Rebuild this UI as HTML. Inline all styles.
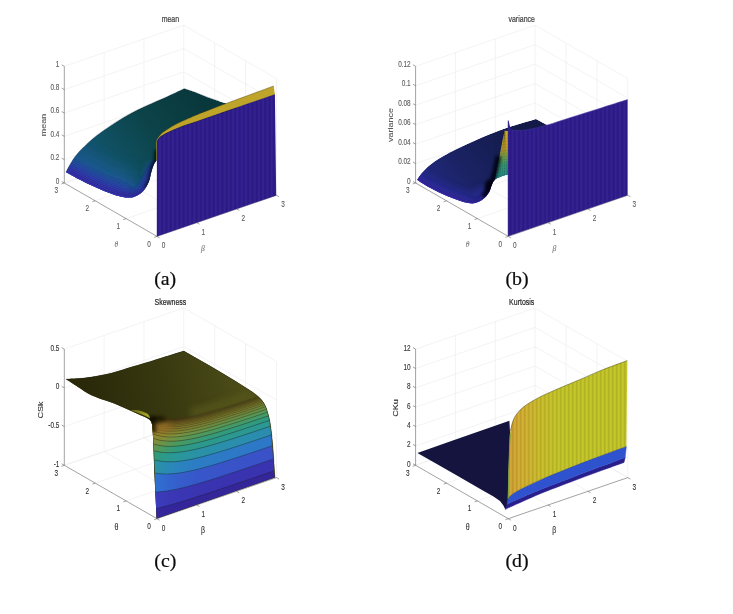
<!DOCTYPE html>
<html lang="en">
<head>
<meta charset="utf-8">
<title>Mean, variance, skewness and kurtosis surfaces</title>
<style>
html,body{margin:0;padding:0;background:#ffffff;}
body{width:733px;height:614px;overflow:hidden;font-family:"Liberation Sans",sans-serif;}
svg{display:block;}
</style>
</head>
<body>
<svg width="733" height="614" viewBox="0 0 733 614">
<rect x="0" y="0" width="733" height="614" fill="#ffffff"/>
<defs>
<clipPath id="ca"><path d="M66 172.2 C66.75 170.8 68.58 166.92 70.5 163.8 C72.42 160.68 73.83 157.67 77.5 153.5 C81.17 149.33 87.5 143.1 92.5 138.8 C97.5 134.5 102.5 131.17 107.5 127.7 C112.5 124.23 117.5 120.98 122.5 118 C127.5 115.02 132.5 112.3 137.5 109.8 C142.5 107.3 147.92 105.03 152.5 103 C157.08 100.97 159.72 100 165 97.6 C170.28 95.2 181 90.1 184.2 88.6 L195.3 92.3 L207.5 97.2 L219.8 101.5 L230 104.5 L240 108 L240 150 L158 150 L158 160 C157.72 160.12 156.98 159.97 156.3 160.7 C155.62 161.43 154.72 162.57 153.9 164.4 C153.08 166.23 152.23 168.83 151.4 171.7 C150.57 174.57 150.13 178.52 148.9 181.6 C147.67 184.68 146.03 187.85 144 190.2 C141.97 192.55 139.25 194.47 136.7 195.7 C134.15 196.93 132.08 197.65 128.7 197.6 C125.32 197.55 120.5 196.48 116.4 195.4 C112.3 194.32 108.2 192.73 104.1 191.1 C100 189.47 95.88 187.53 91.8 185.6 C87.72 183.67 83.9 181.73 79.6 179.5 C75.3 177.27 68.27 173.42 66 172.2 Z"/></clipPath>
<linearGradient id="ga" gradientUnits="userSpaceOnUse" x1="80" y1="190" x2="200" y2="100"><stop offset="0" stop-color="#1a5688"/><stop offset="0.3" stop-color="#115266"/><stop offset="0.6" stop-color="#0c444a"/><stop offset="1" stop-color="#09383c"/></linearGradient>
<filter id="b3" filterUnits="userSpaceOnUse" x="0" y="0" width="733" height="614"><feGaussianBlur stdDeviation="3"/></filter>
<filter id="b5" filterUnits="userSpaceOnUse" x="0" y="0" width="733" height="614"><feGaussianBlur stdDeviation="5"/></filter>
<filter id="b7" filterUnits="userSpaceOnUse" x="0" y="0" width="733" height="614"><feGaussianBlur stdDeviation="8"/></filter>
<filter id="b2" filterUnits="userSpaceOnUse" x="0" y="0" width="733" height="614"><feGaussianBlur stdDeviation="1.6"/></filter>
<filter id="b1" filterUnits="userSpaceOnUse" x="0" y="0" width="733" height="614"><feGaussianBlur stdDeviation="0.8"/></filter>
<pattern id="st" patternUnits="userSpaceOnUse" width="4.3" height="10"><rect x="0" y="0" width="1.8" height="10" fill="#ffffff" opacity="0.03"/><rect x="2.4" y="0" width="1.0" height="10" fill="#000000" opacity="0.05"/></pattern>
<clipPath id="cb"><path d="M417 179.8 C417.75 178.75 419.75 175.63 421.5 173.5 C423.25 171.37 425.33 169 427.5 167 C429.67 165 432 163.25 434.5 161.5 C437 159.75 439.53 158.2 442.5 156.5 C445.47 154.8 448.62 153.18 452.3 151.3 C455.98 149.42 460.52 147.12 464.6 145.2 C468.68 143.28 472.72 141.58 476.8 139.8 C480.88 138.02 485 136.17 489.1 134.5 C493.2 132.83 498.23 130.98 501.4 129.8 C504.57 128.62 502.35 129.2 508.1 127.4 C513.85 125.6 531.27 120.4 535.9 119 L548 125.4 L548 140 L509 140 L509 174.2 C507.67 174.63 503.33 175.87 501 176.8 C498.67 177.73 496.5 178.52 495 179.8 C493.5 181.08 493 182.38 492 184.5 C491 186.62 490.5 190.03 489 192.5 C487.5 194.97 485.25 197.55 483 199.3 C480.75 201.05 478 202.38 475.5 203 C473 203.62 471 203.5 468 203 C465 202.5 461.75 201.5 457.5 200 C453.25 198.5 447.5 196.25 442.5 194 C437.5 191.75 431.75 188.87 427.5 186.5 C423.25 184.13 418.75 180.92 417 179.8 Z"/></clipPath>
<linearGradient id="gb" gradientUnits="userSpaceOnUse" x1="430" y1="195" x2="520" y2="125"><stop offset="0" stop-color="#232a82"/><stop offset="0.4" stop-color="#1a2262"/><stop offset="1" stop-color="#131a48"/></linearGradient>
<linearGradient id="gt" gradientUnits="userSpaceOnUse" x1="0" y1="131" x2="0" y2="180"><stop offset="0" stop-color="#cfa92a"/><stop offset="0.36" stop-color="#c2a02c"/><stop offset="0.52" stop-color="#78a648"/><stop offset="0.68" stop-color="#3a9a74"/><stop offset="1" stop-color="#208890"/></linearGradient>
<clipPath id="cc"><path d="M65.8 379.1 C67.83 379.02 73.73 378.93 78 378.6 C82.27 378.27 85.75 378.03 91.4 377.1 C97.05 376.17 105.08 374.72 111.9 373 C118.72 371.28 125.48 368.85 132.3 366.8 C139.12 364.75 144.22 363.32 152.8 360.7 C161.38 358.08 178.63 352.7 183.8 351.1 L211.4 366.8 C214.82 368.85 225.77 375.35 231.9 379.1 C238.03 382.85 243.77 386.35 248.2 389.3 C252.63 392.25 255.8 394.35 258.5 396.8 C261.2 399.25 262.88 401.43 264.4 404 C265.92 406.57 266.6 408.78 267.6 412.2 C268.6 415.62 269.53 418.87 270.4 424.5 C271.27 430.13 272.05 437.17 272.8 446 C273.55 454.83 274.55 472.25 274.9 477.5 L156.6 518.6 L154.3 471.4 C154.12 466.28 153.52 447.75 153.2 440.7 C152.88 433.65 152.72 432.22 152.4 429.1 C152.08 425.98 152.23 423.83 151.3 422 C150.37 420.17 149.58 419.68 146.8 418.1 C144.02 416.52 138.68 414.35 134.6 412.5 C130.52 410.65 126.4 408.73 122.3 407 C118.2 405.27 115.15 404.07 110 402.1 C104.85 400.13 96.73 397.72 91.4 395.2 C86.07 392.68 82.27 389.68 78 387 C73.73 384.32 67.83 380.42 65.8 379.1 Z"/></clipPath>
<linearGradient id="gc0" gradientUnits="userSpaceOnUse" x1="85" y1="395" x2="235" y2="365"><stop offset="0" stop-color="#29290a"/><stop offset="0.45" stop-color="#36360f"/><stop offset="1" stop-color="#4b4c18"/></linearGradient>
<linearGradient id="gcb0" gradientUnits="userSpaceOnUse" x1="156.4" y1="0" x2="274.8" y2="0"><stop offset="0" stop-color="#35279c"/><stop offset="0.04" stop-color="#35279b"/><stop offset="0.1" stop-color="#34269a"/><stop offset="0.2" stop-color="#34269a"/><stop offset="0.35" stop-color="#342699"/><stop offset="0.6" stop-color="#342698"/><stop offset="1" stop-color="#342698"/></linearGradient>
<linearGradient id="gcb1" gradientUnits="userSpaceOnUse" x1="155.95" y1="0" x2="273.85" y2="0"><stop offset="0" stop-color="#3b3dba"/><stop offset="0.04" stop-color="#3b3ab8"/><stop offset="0.1" stop-color="#3b38b6"/><stop offset="0.2" stop-color="#3a36b3"/><stop offset="0.35" stop-color="#3a34b1"/><stop offset="0.6" stop-color="#3a33b0"/><stop offset="1" stop-color="#3a33af"/></linearGradient>
<linearGradient id="gcb2" gradientUnits="userSpaceOnUse" x1="155.5" y1="0" x2="272.9" y2="0"><stop offset="0" stop-color="#2e72cd"/><stop offset="0.04" stop-color="#306dd0"/><stop offset="0.1" stop-color="#3266cd"/><stop offset="0.2" stop-color="#355ecb"/><stop offset="0.35" stop-color="#3757c9"/><stop offset="0.6" stop-color="#3953c8"/><stop offset="1" stop-color="#3a51c7"/></linearGradient>
<linearGradient id="gcb3" gradientUnits="userSpaceOnUse" x1="155.05" y1="0" x2="271.95" y2="0"><stop offset="0" stop-color="#2a94a1"/><stop offset="0.04" stop-color="#2a8fa9"/><stop offset="0.1" stop-color="#2a8ab4"/><stop offset="0.2" stop-color="#2b83bd"/><stop offset="0.35" stop-color="#2c7dc3"/><stop offset="0.6" stop-color="#2d79c7"/><stop offset="1" stop-color="#2d77c8"/></linearGradient>
<linearGradient id="gcb4" gradientUnits="userSpaceOnUse" x1="154.6" y1="0" x2="271" y2="0"><stop offset="0" stop-color="#389a76"/><stop offset="0.04" stop-color="#2e9a83"/><stop offset="0.1" stop-color="#2c998e"/><stop offset="0.2" stop-color="#2a979a"/><stop offset="0.35" stop-color="#2a92a5"/><stop offset="0.6" stop-color="#2a8eac"/><stop offset="1" stop-color="#2a8daf"/></linearGradient>
<linearGradient id="gcb5" gradientUnits="userSpaceOnUse" x1="154.15" y1="0" x2="270.05" y2="0"><stop offset="0" stop-color="#64954d"/><stop offset="0.04" stop-color="#52995a"/><stop offset="0.1" stop-color="#419a6b"/><stop offset="0.2" stop-color="#309a7f"/><stop offset="0.35" stop-color="#2d998a"/><stop offset="0.6" stop-color="#2b9991"/><stop offset="1" stop-color="#2b9894"/></linearGradient>
<linearGradient id="gcb6" gradientUnits="userSpaceOnUse" x1="153.7" y1="0" x2="269.1" y2="0"><stop offset="0" stop-color="#868e37"/><stop offset="0.04" stop-color="#779140"/><stop offset="0.1" stop-color="#63954d"/><stop offset="0.2" stop-color="#4a9a60"/><stop offset="0.35" stop-color="#3b9a71"/><stop offset="0.6" stop-color="#329a7d"/><stop offset="1" stop-color="#2f9a81"/></linearGradient>
<linearGradient id="gcb7" gradientUnits="userSpaceOnUse" x1="153.25" y1="0" x2="268.15" y2="0"><stop offset="0" stop-color="#93872e"/><stop offset="0.04" stop-color="#8b8b33"/><stop offset="0.1" stop-color="#7f8f3c"/><stop offset="0.2" stop-color="#699449"/><stop offset="0.35" stop-color="#539859"/><stop offset="0.6" stop-color="#469a65"/><stop offset="1" stop-color="#429a69"/></linearGradient>
<linearGradient id="gcb8" gradientUnits="userSpaceOnUse" x1="152.8" y1="0" x2="267.2" y2="0"><stop offset="0" stop-color="#98802b"/><stop offset="0.04" stop-color="#94862d"/><stop offset="0.1" stop-color="#8c8b32"/><stop offset="0.2" stop-color="#7d903d"/><stop offset="0.35" stop-color="#6a9448"/><stop offset="0.6" stop-color="#5b9753"/><stop offset="1" stop-color="#569857"/></linearGradient>
<linearGradient id="gcb9" gradientUnits="userSpaceOnUse" x1="152.35" y1="0" x2="266.25" y2="0"><stop offset="0" stop-color="#907526"/><stop offset="0.04" stop-color="#917a29"/><stop offset="0.1" stop-color="#8c802b"/><stop offset="0.2" stop-color="#838633"/><stop offset="0.35" stop-color="#758a3b"/><stop offset="0.6" stop-color="#698c42"/><stop offset="1" stop-color="#648d45"/></linearGradient>
<linearGradient id="gcb10" gradientUnits="userSpaceOnUse" x1="151.9" y1="0" x2="265.3" y2="0"><stop offset="0" stop-color="#846923"/><stop offset="0.04" stop-color="#897025"/><stop offset="0.1" stop-color="#897628"/><stop offset="0.2" stop-color="#837d2b"/><stop offset="0.35" stop-color="#7b8031"/><stop offset="0.6" stop-color="#728338"/><stop offset="1" stop-color="#6d843a"/></linearGradient>
<linearGradient id="gcb11" gradientUnits="userSpaceOnUse" x1="151.6" y1="0" x2="264.35" y2="0"><stop offset="0" stop-color="#7a5e1e"/><stop offset="0.04" stop-color="#7f6521"/><stop offset="0.1" stop-color="#856d24"/><stop offset="0.2" stop-color="#807327"/><stop offset="0.35" stop-color="#7a772b"/><stop offset="0.6" stop-color="#757a30"/><stop offset="1" stop-color="#727b31"/></linearGradient>
<linearGradient id="gcb12" gradientUnits="userSpaceOnUse" x1="151.6" y1="0" x2="263.4" y2="0"><stop offset="0" stop-color="#71571c"/><stop offset="0.04" stop-color="#755c1e"/><stop offset="0.1" stop-color="#7b6421"/><stop offset="0.2" stop-color="#7c6b24"/><stop offset="0.35" stop-color="#787026"/><stop offset="0.6" stop-color="#73722a"/><stop offset="1" stop-color="#70732b"/></linearGradient>
<linearGradient id="gcb13" gradientUnits="userSpaceOnUse" x1="151.6" y1="0" x2="262.45" y2="0"><stop offset="0" stop-color="#6b521a"/><stop offset="0.04" stop-color="#6c541b"/><stop offset="0.1" stop-color="#725b1e"/><stop offset="0.2" stop-color="#776221"/><stop offset="0.35" stop-color="#736723"/><stop offset="0.6" stop-color="#706a25"/><stop offset="1" stop-color="#6d6b27"/></linearGradient>
<linearGradient id="gcb14" gradientUnits="userSpaceOnUse" x1="151.6" y1="0" x2="261.5" y2="0"><stop offset="0" stop-color="#654d19"/><stop offset="0.04" stop-color="#654d19"/><stop offset="0.1" stop-color="#6a541b"/><stop offset="0.2" stop-color="#705b1f"/><stop offset="0.35" stop-color="#6e6020"/><stop offset="0.6" stop-color="#6b6322"/><stop offset="1" stop-color="#6a6422"/></linearGradient>
<linearGradient id="gcb15" gradientUnits="userSpaceOnUse" x1="151.6" y1="0" x2="260.55" y2="0"><stop offset="0" stop-color="#5f4917"/><stop offset="0.04" stop-color="#5f4917"/><stop offset="0.1" stop-color="#624d19"/><stop offset="0.2" stop-color="#67541b"/><stop offset="0.35" stop-color="#67581d"/><stop offset="0.6" stop-color="#655b1f"/><stop offset="1" stop-color="#655c20"/></linearGradient>
<linearGradient id="gcb16" gradientUnits="userSpaceOnUse" x1="151.6" y1="0" x2="259.6" y2="0"><stop offset="0" stop-color="#584416"/><stop offset="0.04" stop-color="#584416"/><stop offset="0.1" stop-color="#5a4616"/><stop offset="0.2" stop-color="#5f4d19"/><stop offset="0.35" stop-color="#62521c"/><stop offset="0.6" stop-color="#5f541c"/><stop offset="1" stop-color="#5f551d"/></linearGradient>
<linearGradient id="gcb17" gradientUnits="userSpaceOnUse" x1="151.6" y1="0" x2="258.65" y2="0"><stop offset="0" stop-color="#523f14"/><stop offset="0.04" stop-color="#523f14"/><stop offset="0.1" stop-color="#534015"/><stop offset="0.2" stop-color="#574617"/><stop offset="0.35" stop-color="#5c4b19"/><stop offset="0.6" stop-color="#5a4d1a"/><stop offset="1" stop-color="#594f1a"/></linearGradient>
<linearGradient id="gcb18" gradientUnits="userSpaceOnUse" x1="151.6" y1="0" x2="257.7" y2="0"><stop offset="0" stop-color="#4c3a13"/><stop offset="0.04" stop-color="#4c3a13"/><stop offset="0.1" stop-color="#4c3a13"/><stop offset="0.2" stop-color="#504015"/><stop offset="0.35" stop-color="#544417"/><stop offset="0.6" stop-color="#544718"/><stop offset="1" stop-color="#524818"/></linearGradient>
<linearGradient id="gcb19" gradientUnits="userSpaceOnUse" x1="151.6" y1="0" x2="256.75" y2="0"><stop offset="0" stop-color="#463611"/><stop offset="0.04" stop-color="#463611"/><stop offset="0.1" stop-color="#463611"/><stop offset="0.2" stop-color="#493a13"/><stop offset="0.35" stop-color="#4c3e15"/><stop offset="0.6" stop-color="#4d4116"/><stop offset="1" stop-color="#4c4216"/></linearGradient>
<linearGradient id="gl" gradientUnits="userSpaceOnUse" x1="138" y1="408" x2="143" y2="417"><stop offset="0" stop-color="#6e6e18"/><stop offset="1" stop-color="#a6a626"/></linearGradient>
<linearGradient id="gd" gradientUnits="userSpaceOnUse" x1="508" y1="0" x2="560" y2="0"><stop offset="0" stop-color="#cf9a34"/><stop offset="0.25" stop-color="#d0a932"/><stop offset="0.7" stop-color="#c4bb2a"/><stop offset="1" stop-color="#bfc128"/></linearGradient>
<pattern id="sd" patternUnits="userSpaceOnUse" width="4.0" height="10"><rect x="0" y="0" width="1.5" height="10" fill="#5a5a00" opacity="0.13"/><rect x="2.0" y="0" width="1.2" height="10" fill="#ffff60" opacity="0.09"/></pattern>
</defs>
<g fill="none" shape-rendering="geometricPrecision"><line x1="64.3" y1="183" x2="183.8" y2="141.9" stroke="#ececec" stroke-width="0.65"/><line x1="183.8" y1="141.9" x2="276.5" y2="195.3" stroke="#ececec" stroke-width="0.65"/><line x1="64.3" y1="159.66" x2="183.8" y2="118.56" stroke="#ececec" stroke-width="0.65"/><line x1="183.8" y1="118.56" x2="276.5" y2="171.96" stroke="#ececec" stroke-width="0.65"/><line x1="64.3" y1="136.32" x2="183.8" y2="95.22" stroke="#ececec" stroke-width="0.65"/><line x1="183.8" y1="95.22" x2="276.5" y2="148.62" stroke="#ececec" stroke-width="0.65"/><line x1="64.3" y1="112.98" x2="183.8" y2="71.88" stroke="#ececec" stroke-width="0.65"/><line x1="183.8" y1="71.88" x2="276.5" y2="125.28" stroke="#ececec" stroke-width="0.65"/><line x1="64.3" y1="89.64" x2="183.8" y2="48.54" stroke="#ececec" stroke-width="0.65"/><line x1="183.8" y1="48.54" x2="276.5" y2="101.94" stroke="#ececec" stroke-width="0.65"/><line x1="64.3" y1="66.3" x2="183.8" y2="25.2" stroke="#ececec" stroke-width="0.65"/><line x1="183.8" y1="25.2" x2="276.5" y2="78.6" stroke="#ececec" stroke-width="0.65"/><line x1="104.13" y1="169.3" x2="104.13" y2="52.6" stroke="#ececec" stroke-width="0.65"/><line x1="214.7" y1="159.7" x2="214.7" y2="43" stroke="#ececec" stroke-width="0.65"/><line x1="143.97" y1="155.6" x2="143.97" y2="38.9" stroke="#ececec" stroke-width="0.65"/><line x1="245.6" y1="177.5" x2="245.6" y2="60.8" stroke="#ececec" stroke-width="0.65"/><line x1="183.8" y1="141.9" x2="183.8" y2="25.2" stroke="#ececec" stroke-width="0.65"/><line x1="276.5" y1="195.3" x2="276.5" y2="78.6" stroke="#ececec" stroke-width="0.65"/><line x1="196.83" y1="222.7" x2="104.13" y2="169.3" stroke="#ececec" stroke-width="0.65"/><line x1="126.1" y1="218.6" x2="245.6" y2="177.5" stroke="#ececec" stroke-width="0.65"/><line x1="236.67" y1="209" x2="143.97" y2="155.6" stroke="#ececec" stroke-width="0.65"/><line x1="95.2" y1="200.8" x2="214.7" y2="159.7" stroke="#ececec" stroke-width="0.65"/><line x1="276.5" y1="195.3" x2="183.8" y2="141.9" stroke="#ececec" stroke-width="0.65"/><line x1="64.3" y1="183" x2="183.8" y2="141.9" stroke="#ececec" stroke-width="0.65"/><line x1="64.3" y1="183" x2="64.3" y2="66.3" stroke="#686868" stroke-width="0.62"/><line x1="64.3" y1="183" x2="157" y2="236.4" stroke="#686868" stroke-width="0.62"/><line x1="157" y1="236.4" x2="276.5" y2="195.3" stroke="#686868" stroke-width="0.62"/><line x1="157" y1="236.4" x2="154.16" y2="237.38" stroke="#686868" stroke-width="0.62"/><line x1="157" y1="236.4" x2="159.6" y2="237.9" stroke="#686868" stroke-width="0.62"/><line x1="126.1" y1="218.6" x2="123.26" y2="219.58" stroke="#686868" stroke-width="0.62"/><line x1="196.83" y1="222.7" x2="199.43" y2="224.2" stroke="#686868" stroke-width="0.62"/><line x1="95.2" y1="200.8" x2="92.36" y2="201.78" stroke="#686868" stroke-width="0.62"/><line x1="236.67" y1="209" x2="239.27" y2="210.5" stroke="#686868" stroke-width="0.62"/><line x1="64.3" y1="183" x2="61.46" y2="183.98" stroke="#686868" stroke-width="0.62"/><line x1="276.5" y1="195.3" x2="279.1" y2="196.8" stroke="#686868" stroke-width="0.62"/><line x1="64.3" y1="183" x2="61.7" y2="181.5" stroke="#686868" stroke-width="0.62"/><line x1="64.3" y1="159.66" x2="61.7" y2="158.16" stroke="#686868" stroke-width="0.62"/><line x1="64.3" y1="136.32" x2="61.7" y2="134.82" stroke="#686868" stroke-width="0.62"/><line x1="64.3" y1="112.98" x2="61.7" y2="111.48" stroke="#686868" stroke-width="0.62"/><line x1="64.3" y1="89.64" x2="61.7" y2="88.14" stroke="#686868" stroke-width="0.62"/><line x1="64.3" y1="66.3" x2="61.7" y2="64.8" stroke="#686868" stroke-width="0.62"/></g>
<g font-family="'Liberation Sans', sans-serif" fill="#5a5a5a" stroke="#5a5a5a" stroke-width="0.12"><text transform="translate(59.4 183.5) scale(0.76 1)" text-anchor="end" font-size="8.5" >0</text><text transform="translate(59.4 160.16) scale(0.76 1)" text-anchor="end" font-size="8.5" >0.2</text><text transform="translate(59.4 136.82) scale(0.76 1)" text-anchor="end" font-size="8.5" >0.4</text><text transform="translate(59.4 113.48) scale(0.76 1)" text-anchor="end" font-size="8.5" >0.6</text><text transform="translate(59.4 90.14) scale(0.76 1)" text-anchor="end" font-size="8.5" >0.8</text><text transform="translate(59.4 66.8) scale(0.76 1)" text-anchor="end" font-size="8.5" >1</text><text transform="translate(149.1 246.8) scale(0.76 1)" text-anchor="middle" font-size="8.5" >0</text><text transform="translate(163.5 248.3) scale(0.76 1)" text-anchor="middle" font-size="8.5" >0</text><text transform="translate(118.2 229) scale(0.76 1)" text-anchor="middle" font-size="8.5" >1</text><text transform="translate(203.33 234.6) scale(0.76 1)" text-anchor="middle" font-size="8.5" >1</text><text transform="translate(87.3 211.2) scale(0.76 1)" text-anchor="middle" font-size="8.5" >2</text><text transform="translate(243.17 220.9) scale(0.76 1)" text-anchor="middle" font-size="8.5" >2</text><text transform="translate(56.4 193.4) scale(0.76 1)" text-anchor="middle" font-size="8.5" >3</text><text transform="translate(283 207.2) scale(0.76 1)" text-anchor="middle" font-size="8.5" >3</text><text transform="translate(170.4 21.7) scale(0.76 1)" text-anchor="middle" font-size="9.2" fill="#3c3c3c" stroke="#3c3c3c" stroke-width="0.2">mean</text><text transform="translate(45.8 125) rotate(-90) scale(1 0.76)" text-anchor="middle" font-size="9.0">mean</text><text transform="translate(116.3 247.2) scale(0.9 1)" text-anchor="middle" font-size="8.4" font-family="'Liberation Serif', serif" font-style="italic" fill="#8a8a8a">θ</text><text transform="translate(203 250.6) scale(0.9 1)" text-anchor="middle" font-size="8.4" font-family="'Liberation Serif', serif" font-style="italic" fill="#8a8a8a">β</text></g>
<g clip-path="url(#ca)"><path d="M66 172.2 C66.75 170.8 68.58 166.92 70.5 163.8 C72.42 160.68 73.83 157.67 77.5 153.5 C81.17 149.33 87.5 143.1 92.5 138.8 C97.5 134.5 102.5 131.17 107.5 127.7 C112.5 124.23 117.5 120.98 122.5 118 C127.5 115.02 132.5 112.3 137.5 109.8 C142.5 107.3 147.92 105.03 152.5 103 C157.08 100.97 159.72 100 165 97.6 C170.28 95.2 181 90.1 184.2 88.6 L195.3 92.3 L207.5 97.2 L219.8 101.5 L230 104.5 L240 108 L240 150 L158 150 L158 160 C157.72 160.12 156.98 159.97 156.3 160.7 C155.62 161.43 154.72 162.57 153.9 164.4 C153.08 166.23 152.23 168.83 151.4 171.7 C150.57 174.57 150.13 178.52 148.9 181.6 C147.67 184.68 146.03 187.85 144 190.2 C141.97 192.55 139.25 194.47 136.7 195.7 C134.15 196.93 132.08 197.65 128.7 197.6 C125.32 197.55 120.5 196.48 116.4 195.4 C112.3 194.32 108.2 192.73 104.1 191.1 C100 189.47 95.88 187.53 91.8 185.6 C87.72 183.67 83.9 181.73 79.6 179.5 C75.3 177.27 68.27 173.42 66 172.2 Z" fill="url(#ga)"/><path d="M136.7 195.7 C135.37 196.02 132.08 197.65 128.7 197.6 C125.32 197.55 120.5 196.48 116.4 195.4 C112.3 194.32 108.2 192.73 104.1 191.1 C100 189.47 95.88 187.53 91.8 185.6 C87.72 183.67 83.9 181.73 79.6 179.5 C75.3 177.27 68.27 173.42 66 172.2" fill="none" stroke="#1d5c92" stroke-width="52" filter="url(#b7)" opacity="0.85"/><path d="M136.7 195.7 C135.37 196.02 132.08 197.65 128.7 197.6 C125.32 197.55 120.5 196.48 116.4 195.4 C112.3 194.32 108.2 192.73 104.1 191.1 C100 189.47 95.88 187.53 91.8 185.6 C87.72 183.67 83.9 181.73 79.6 179.5 C75.3 177.27 68.27 173.42 66 172.2" fill="none" stroke="#2650a6" stroke-width="26" filter="url(#b5)" opacity="0.9"/><path d="M153.9 164.4 C153.48 165.62 152.23 168.83 151.4 171.7 C150.57 174.57 150.13 178.52 148.9 181.6 C147.67 184.68 146.03 187.85 144 190.2 C141.97 192.55 139.25 194.47 136.7 195.7 C134.15 196.93 132.08 197.65 128.7 197.6 C125.32 197.55 120.5 196.48 116.4 195.4 C112.3 194.32 108.2 192.73 104.1 191.1 C100 189.47 95.88 187.53 91.8 185.6 C87.72 183.67 83.9 181.73 79.6 179.5 C75.3 177.27 68.27 173.42 66 172.2" fill="none" stroke="#22549e" stroke-width="12" filter="url(#b3)" opacity="0.8"/><path d="M73.49 158.34 L74.99 159.16 L77.08 160.29 L79.52 161.61 L82.11 163.01 L84.63 164.35 L86.88 165.54 L88.92 166.59 L90.91 167.61 L92.84 168.58 L94.74 169.53 L96.63 170.45 L98.56 171.38 L100.54 172.31 L102.51 173.23 L104.43 174.11 L106.31 174.95 L108.14 175.74 L109.98 176.49 L111.88 177.24 L113.76 177.96 L115.55 178.63 L117.27 179.22 L118.89 179.74 L120.46 180.31 L122.09 181.25 L123.8 182.18 L125.44 183.04 L126.92 183.81 L128.11 184.48 L128.95 185.04 L129.51 185.54 L129.91 186.01 L130.27 186.45 L130.76 186.83 L131.52 187.08 L132.51 187.19 L133.56 187.19 L134.38 186.7 L135.18 186.14 L135.94 185.54 L136.61 184.93 L137.19 184.32 L137.73 183.64 L138.3 182.79 L138.89 181.8 L139.47 180.69 L140.02 179.49 L140.67 178.45 L141.4 177.53 L142.11 176.38 L142.83 174.95 L143.56 173.35 L144.33 171.64 L145.16 169.98 L145.99 168.52 L146.81 167.21 L147.63 165.96 L148.45 164.79 L149.28 163.7 L150.14 162.68 L151.05 161.73 L151.97 160.95 L152.84 160.37 L153.63 159.97 L154.29 159.75 L154.84 159.65 L154.68 159.53 L154.09 159.6 L153.4 159.79 L152.57 160.17 L151.66 160.75 L150.68 161.53 L149.72 162.49 L148.82 163.51 L147.94 164.6 L147.07 165.77 L146.21 167.02 L145.35 168.33 L144.46 169.79 L143.59 171.46 L142.77 173.18 L142 174.77 L141.24 176.16 L140.51 177.25 L139.75 178.1 L139.11 179.09 L138.57 180.24 L138.01 181.31 L137.45 182.26 L136.92 183.04 L136.43 183.66 L135.91 184.21 L135.29 184.78 L134.59 185.34 L133.83 185.86 L133.07 186.32 L132.04 186.24 L131.08 186.06 L130.37 185.73 L129.96 185.27 L129.71 184.74 L129.42 184.2 L128.98 183.65 L128.24 183.03 L127.14 182.32 L125.74 181.5 L124.15 180.59 L122.49 179.62 L120.91 178.63 L119.39 178.06 L117.82 177.56 L116.14 176.98 L114.37 176.33 L112.51 175.61 L110.63 174.87 L108.82 174.12 L107.01 173.35 L105.15 172.52 L103.24 171.64 L101.28 170.73 L99.31 169.79 L97.39 168.88 L95.51 167.96 L93.62 167.02 L91.7 166.05 L89.72 165.03 L87.69 163.98 L85.45 162.81 L82.94 161.46 L80.35 160.07 L77.91 158.75 L75.83 157.62 L74.32 156.8 Z" fill="#2455a3" opacity="0.2"/><path d="M72.65 159.88 L74.16 160.7 L76.25 161.83 L78.69 163.15 L81.28 164.55 L83.81 165.9 L86.08 167.09 L88.12 168.14 L90.11 169.17 L92.06 170.15 L93.97 171.1 L95.87 172.03 L97.81 172.96 L99.8 173.89 L101.77 174.82 L103.71 175.71 L105.61 176.55 L107.47 177.35 L109.33 178.11 L111.24 178.87 L113.14 179.6 L114.97 180.27 L116.72 180.88 L118.38 181.41 L120.01 181.99 L121.69 182.88 L123.45 183.76 L125.15 184.58 L126.7 185.31 L127.98 185.93 L128.92 186.44 L129.59 186.88 L130.11 187.28 L130.57 187.64 L131.15 187.93 L131.96 188.1 L132.97 188.13 L134.05 188.06 L134.92 187.54 L135.78 186.94 L136.59 186.3 L137.32 185.64 L137.95 184.97 L138.53 184.23 L139.14 183.33 L139.76 182.28 L140.36 181.13 L140.94 179.9 L141.58 178.8 L142.3 177.8 L142.98 176.59 L143.66 175.13 L144.35 173.52 L145.07 171.81 L145.85 170.17 L146.64 168.72 L147.41 167.4 L148.19 166.15 L148.97 164.97 L149.75 163.89 L150.56 162.87 L151.41 161.93 L152.28 161.15 L153.11 160.56 L153.86 160.14 L154.48 159.89 L155 159.76 L154.84 159.65 L154.29 159.75 L153.63 159.97 L152.84 160.37 L151.97 160.95 L151.05 161.73 L150.14 162.68 L149.28 163.7 L148.45 164.79 L147.63 165.96 L146.81 167.21 L145.99 168.52 L145.16 169.98 L144.33 171.64 L143.56 173.35 L142.83 174.95 L142.11 176.38 L141.4 177.53 L140.67 178.45 L140.02 179.49 L139.47 180.69 L138.89 181.8 L138.3 182.79 L137.73 183.64 L137.19 184.32 L136.61 184.93 L135.94 185.54 L135.18 186.14 L134.38 186.7 L133.56 187.19 L132.51 187.19 L131.52 187.08 L130.76 186.83 L130.27 186.45 L129.91 186.01 L129.51 185.54 L128.95 185.04 L128.11 184.48 L126.92 183.81 L125.44 183.04 L123.8 182.18 L122.09 181.25 L120.46 180.31 L118.89 179.74 L117.27 179.22 L115.55 178.63 L113.76 177.96 L111.88 177.24 L109.98 176.49 L108.14 175.74 L106.31 174.95 L104.43 174.11 L102.51 173.23 L100.54 172.31 L98.56 171.38 L96.63 170.45 L94.74 169.53 L92.84 168.58 L90.91 167.61 L88.92 166.59 L86.88 165.54 L84.63 164.35 L82.11 163.01 L79.52 161.61 L77.08 160.29 L74.99 159.16 L73.49 158.34 Z" fill="#2552a6" opacity="0.4"/><path d="M71.82 161.42 L73.33 162.24 L75.41 163.37 L77.86 164.69 L80.46 166.09 L82.99 167.44 L85.27 168.64 L87.32 169.7 L89.32 170.73 L91.27 171.71 L93.19 172.67 L95.11 173.6 L97.06 174.54 L99.05 175.48 L101.04 176.41 L102.99 177.3 L104.91 178.16 L106.79 178.96 L108.67 179.74 L110.6 180.5 L112.52 181.24 L114.38 181.92 L116.16 182.54 L117.88 183.09 L119.56 183.66 L121.29 184.51 L123.1 185.35 L124.86 186.12 L126.47 186.8 L127.84 187.37 L128.89 187.83 L129.68 188.21 L130.31 188.54 L130.88 188.83 L131.53 189.04 L132.39 189.12 L133.44 189.08 L134.55 188.93 L135.47 188.37 L136.37 187.75 L137.23 187.07 L138.02 186.35 L138.7 185.62 L139.34 184.82 L139.99 183.86 L140.63 182.77 L141.26 181.57 L141.85 180.3 L142.5 179.15 L143.19 178.08 L143.84 176.8 L144.49 175.31 L145.14 173.69 L145.81 171.99 L146.55 170.36 L147.29 168.92 L148.02 167.59 L148.75 166.34 L149.48 165.16 L150.22 164.07 L150.97 163.06 L151.78 162.13 L152.6 161.35 L153.38 160.75 L154.08 160.31 L154.68 160.04 L155.16 159.88 L155 159.76 L154.48 159.89 L153.86 160.14 L153.11 160.56 L152.28 161.15 L151.41 161.93 L150.56 162.87 L149.75 163.89 L148.97 164.97 L148.19 166.15 L147.41 167.4 L146.64 168.72 L145.85 170.17 L145.07 171.81 L144.35 173.52 L143.66 175.13 L142.98 176.59 L142.3 177.8 L141.58 178.8 L140.94 179.9 L140.36 181.13 L139.76 182.28 L139.14 183.33 L138.53 184.23 L137.95 184.97 L137.32 185.64 L136.59 186.3 L135.78 186.94 L134.92 187.54 L134.05 188.06 L132.97 188.13 L131.96 188.1 L131.15 187.93 L130.57 187.64 L130.11 187.28 L129.59 186.88 L128.92 186.44 L127.98 185.93 L126.7 185.31 L125.15 184.58 L123.45 183.76 L121.69 182.88 L120.01 181.99 L118.38 181.41 L116.72 180.88 L114.97 180.27 L113.14 179.6 L111.24 178.87 L109.33 178.11 L107.47 177.35 L105.61 176.55 L103.71 175.71 L101.77 174.82 L99.8 173.89 L97.81 172.96 L95.87 172.03 L93.97 171.1 L92.06 170.15 L90.11 169.17 L88.12 168.14 L86.08 167.09 L83.81 165.9 L81.28 164.55 L78.69 163.15 L76.25 161.83 L74.16 160.7 L72.65 159.88 Z" fill="#2750aa" opacity="0.6"/><path d="M70.99 162.96 L72.49 163.77 L74.58 164.9 L77.03 166.23 L79.63 167.63 L82.17 168.99 L84.46 170.19 L86.52 171.26 L88.53 172.29 L90.49 173.28 L92.42 174.24 L94.35 175.18 L96.31 176.12 L98.31 177.06 L100.3 177.99 L102.27 178.9 L104.21 179.76 L106.11 180.58 L108.02 181.36 L109.97 182.13 L111.9 182.88 L113.79 183.57 L115.61 184.2 L117.37 184.76 L119.11 185.34 L120.89 186.15 L122.75 186.93 L124.57 187.66 L126.25 188.29 L127.71 188.82 L128.87 189.23 L129.77 189.55 L130.51 189.81 L131.18 190.01 L131.92 190.14 L132.83 190.14 L133.9 190.02 L135.04 189.8 L136.01 189.21 L136.97 188.55 L137.88 187.83 L138.72 187.06 L139.46 186.28 L140.15 185.41 L140.83 184.4 L141.51 183.26 L142.16 182.02 L142.77 180.71 L143.41 179.5 L144.09 178.35 L144.71 177.02 L145.32 175.49 L145.92 173.85 L146.56 172.16 L147.24 170.55 L147.94 169.11 L148.62 167.79 L149.31 166.53 L149.99 165.35 L150.69 164.26 L151.39 163.25 L152.14 162.33 L152.91 161.55 L153.65 160.94 L154.31 160.49 L154.87 160.19 L155.33 160 L155.16 159.88 L154.68 160.04 L154.08 160.31 L153.38 160.75 L152.6 161.35 L151.78 162.13 L150.97 163.06 L150.22 164.07 L149.48 165.16 L148.75 166.34 L148.02 167.59 L147.29 168.92 L146.55 170.36 L145.81 171.99 L145.14 173.69 L144.49 175.31 L143.84 176.8 L143.19 178.08 L142.5 179.15 L141.85 180.3 L141.26 181.57 L140.63 182.77 L139.99 183.86 L139.34 184.82 L138.7 185.62 L138.02 186.35 L137.23 187.07 L136.37 187.75 L135.47 188.37 L134.55 188.93 L133.44 189.08 L132.39 189.12 L131.53 189.04 L130.88 188.83 L130.31 188.54 L129.68 188.21 L128.89 187.83 L127.84 187.37 L126.47 186.8 L124.86 186.12 L123.1 185.35 L121.29 184.51 L119.56 183.66 L117.88 183.09 L116.16 182.54 L114.38 181.92 L112.52 181.24 L110.6 180.5 L108.67 179.74 L106.79 178.96 L104.91 178.16 L102.99 177.3 L101.04 176.41 L99.05 175.48 L97.06 174.54 L95.11 173.6 L93.19 172.67 L91.27 171.71 L89.32 170.73 L87.32 169.7 L85.27 168.64 L82.99 167.44 L80.46 166.09 L77.86 164.69 L75.41 163.37 L73.33 162.24 L71.82 161.42 Z" fill="#2a4cad" opacity="0.8"/><path d="M70.16 164.5 L71.66 165.31 L73.75 166.44 L76.2 167.77 L78.8 169.17 L81.35 170.54 L83.65 171.74 L85.72 172.81 L87.73 173.85 L89.7 174.84 L91.65 175.81 L93.59 176.75 L95.56 177.7 L97.56 178.65 L99.57 179.58 L101.55 180.49 L103.51 181.36 L105.43 182.19 L107.37 182.98 L109.33 183.76 L111.29 184.51 L113.2 185.22 L115.06 185.86 L116.87 186.44 L118.66 187.02 L120.49 187.78 L122.41 188.52 L124.28 189.19 L126.03 189.78 L127.57 190.26 L128.84 190.62 L129.85 190.88 L130.71 191.07 L131.49 191.2 L132.31 191.24 L133.27 191.16 L134.37 190.97 L135.53 190.67 L136.55 190.05 L137.56 189.35 L138.53 188.59 L139.42 187.78 L140.22 186.93 L140.95 186 L141.68 184.93 L142.38 183.74 L143.05 182.46 L143.68 181.12 L144.33 179.85 L144.98 178.62 L145.58 177.23 L146.15 175.67 L146.71 174.02 L147.3 172.34 L147.93 170.74 L148.58 169.31 L149.22 167.98 L149.86 166.72 L150.51 165.53 L151.15 164.45 L151.81 163.44 L152.51 162.53 L153.23 161.76 L153.91 161.13 L154.54 160.66 L155.07 160.33 L155.49 160.12 L155.33 160 L154.87 160.19 L154.31 160.49 L153.65 160.94 L152.91 161.55 L152.14 162.33 L151.39 163.25 L150.69 164.26 L149.99 165.35 L149.31 166.53 L148.62 167.79 L147.94 169.11 L147.24 170.55 L146.56 172.16 L145.92 173.85 L145.32 175.49 L144.71 177.02 L144.09 178.35 L143.41 179.5 L142.77 180.71 L142.16 182.02 L141.51 183.26 L140.83 184.4 L140.15 185.41 L139.46 186.28 L138.72 187.06 L137.88 187.83 L136.97 188.55 L136.01 189.21 L135.04 189.8 L133.9 190.02 L132.83 190.14 L131.92 190.14 L131.18 190.01 L130.51 189.81 L129.77 189.55 L128.87 189.23 L127.71 188.82 L126.25 188.29 L124.57 187.66 L122.75 186.93 L120.89 186.15 L119.11 185.34 L117.37 184.76 L115.61 184.2 L113.79 183.57 L111.9 182.88 L109.97 182.13 L108.02 181.36 L106.11 180.58 L104.21 179.76 L102.27 178.9 L100.3 177.99 L98.31 177.06 L96.31 176.12 L94.35 175.18 L92.42 174.24 L90.49 173.28 L88.53 172.29 L86.52 171.26 L84.46 170.19 L82.17 168.99 L79.63 167.63 L77.03 166.23 L74.58 164.9 L72.49 163.77 L70.99 162.96 Z" fill="#2c47af" opacity="1"/><path d="M69.33 166.04 L70.83 166.85 L72.91 167.98 L75.36 169.31 L77.98 170.72 L80.54 172.08 L82.84 173.29 L84.92 174.37 L86.94 175.41 L88.92 176.4 L90.87 177.38 L92.82 178.33 L94.81 179.28 L96.82 180.23 L98.83 181.17 L100.83 182.08 L102.8 182.97 L104.76 183.81 L106.71 184.61 L108.69 185.39 L110.67 186.15 L112.61 186.87 L114.51 187.52 L116.37 188.12 L118.21 188.69 L120.09 189.41 L122.06 190.1 L123.99 190.73 L125.81 191.28 L127.44 191.71 L128.81 192.02 L129.94 192.22 L130.91 192.34 L131.79 192.39 L132.7 192.34 L133.71 192.19 L134.84 191.92 L136.02 191.54 L137.1 190.89 L138.16 190.16 L139.18 189.35 L140.12 188.49 L140.97 187.59 L141.76 186.59 L142.52 185.47 L143.26 184.23 L143.95 182.9 L144.59 181.52 L145.24 180.2 L145.88 178.9 L146.44 177.45 L146.98 175.85 L147.5 174.19 L148.04 172.51 L148.63 170.93 L149.23 169.51 L149.83 168.17 L150.42 166.91 L151.02 165.72 L151.62 164.63 L152.23 163.64 L152.87 162.73 L153.54 161.96 L154.18 161.33 L154.77 160.83 L155.26 160.48 L155.65 160.23 L155.49 160.12 L155.07 160.33 L154.54 160.66 L153.91 161.13 L153.23 161.76 L152.51 162.53 L151.81 163.44 L151.15 164.45 L150.51 165.53 L149.86 166.72 L149.22 167.98 L148.58 169.31 L147.93 170.74 L147.3 172.34 L146.71 174.02 L146.15 175.67 L145.58 177.23 L144.98 178.62 L144.33 179.85 L143.68 181.12 L143.05 182.46 L142.38 183.74 L141.68 184.93 L140.95 186 L140.22 186.93 L139.42 187.78 L138.53 188.59 L137.56 189.35 L136.55 190.05 L135.53 190.67 L134.37 190.97 L133.27 191.16 L132.31 191.24 L131.49 191.2 L130.71 191.07 L129.85 190.88 L128.84 190.62 L127.57 190.26 L126.03 189.78 L124.28 189.19 L122.41 188.52 L120.49 187.78 L118.66 187.02 L116.87 186.44 L115.06 185.86 L113.2 185.22 L111.29 184.51 L109.33 183.76 L107.37 182.98 L105.43 182.19 L103.51 181.36 L101.55 180.49 L99.57 179.58 L97.56 178.65 L95.56 177.7 L93.59 176.75 L91.65 175.81 L89.7 174.84 L87.73 173.85 L85.72 172.81 L83.65 171.74 L81.35 170.54 L78.8 169.17 L76.2 167.77 L73.75 166.44 L71.66 165.31 L70.16 164.5 Z" fill="#2f43b2" opacity="1"/><path d="M68.5 167.58 L70 168.39 L72.08 169.52 L74.53 170.85 L77.15 172.26 L79.72 173.63 L82.03 174.85 L84.12 175.93 L86.15 176.97 L88.13 177.97 L90.1 178.95 L92.06 179.91 L94.05 180.86 L96.08 181.81 L98.1 182.76 L100.11 183.68 L102.1 184.57 L104.08 185.42 L106.06 186.23 L108.06 187.02 L110.05 187.79 L112.02 188.51 L113.96 189.18 L115.86 189.79 L117.75 190.37 L119.7 191.04 L121.71 191.69 L123.69 192.27 L125.59 192.77 L127.3 193.16 L128.78 193.41 L130.03 193.55 L131.11 193.61 L132.1 193.57 L133.08 193.45 L134.14 193.21 L135.3 192.86 L136.51 192.41 L137.64 191.73 L138.76 190.96 L139.83 190.11 L140.83 189.2 L141.73 188.24 L142.56 187.19 L143.37 186 L144.13 184.72 L144.84 183.35 L145.51 181.93 L146.16 180.55 L146.77 179.17 L147.31 177.66 L147.81 176.03 L148.29 174.35 L148.78 172.69 L149.32 171.13 L149.88 169.7 L150.43 168.36 L150.98 167.09 L151.53 165.91 L152.09 164.82 L152.65 163.83 L153.24 162.93 L153.85 162.16 L154.45 161.52 L155 161.01 L155.46 160.62 L155.81 160.35 L155.65 160.23 L155.26 160.48 L154.77 160.83 L154.18 161.33 L153.54 161.96 L152.87 162.73 L152.23 163.64 L151.62 164.63 L151.02 165.72 L150.42 166.91 L149.83 168.17 L149.23 169.51 L148.63 170.93 L148.04 172.51 L147.5 174.19 L146.98 175.85 L146.44 177.45 L145.88 178.9 L145.24 180.2 L144.59 181.52 L143.95 182.9 L143.26 184.23 L142.52 185.47 L141.76 186.59 L140.97 187.59 L140.12 188.49 L139.18 189.35 L138.16 190.16 L137.1 190.89 L136.02 191.54 L134.84 191.92 L133.71 192.19 L132.7 192.34 L131.79 192.39 L130.91 192.34 L129.94 192.22 L128.81 192.02 L127.44 191.71 L125.81 191.28 L123.99 190.73 L122.06 190.1 L120.09 189.41 L118.21 188.69 L116.37 188.12 L114.51 187.52 L112.61 186.87 L110.67 186.15 L108.69 185.39 L106.71 184.61 L104.76 183.81 L102.8 182.97 L100.83 182.08 L98.83 181.17 L96.82 180.23 L94.81 179.28 L92.82 178.33 L90.87 177.38 L88.92 176.4 L86.94 175.41 L84.92 174.37 L82.84 173.29 L80.54 172.08 L77.98 170.72 L75.36 169.31 L72.91 167.98 L70.83 166.85 L69.33 166.04 Z" fill="#343cb3" opacity="1"/><path d="M67.66 169.12 L69.16 169.93 L71.25 171.06 L73.7 172.39 L76.32 173.8 L78.9 175.18 L81.22 176.4 L83.31 177.48 L85.35 178.52 L87.35 179.53 L89.33 180.52 L91.3 181.48 L93.3 182.44 L95.33 183.4 L97.36 184.35 L99.39 185.27 L101.4 186.17 L103.4 187.03 L105.41 187.85 L107.42 188.65 L109.43 189.43 L111.43 190.16 L113.4 190.85 L115.36 191.47 L117.3 192.05 L119.3 192.67 L121.36 193.27 L123.4 193.81 L125.36 194.26 L127.17 194.6 L128.76 194.81 L130.12 194.89 L131.31 194.87 L132.4 194.76 L133.47 194.55 L134.58 194.23 L135.77 193.81 L137 193.29 L138.19 192.57 L139.35 191.76 L140.47 190.87 L141.53 189.91 L142.49 188.89 L143.37 187.78 L144.21 186.54 L145 185.2 L145.74 183.79 L146.42 182.33 L147.07 180.9 L147.67 179.45 L148.18 177.87 L148.64 176.21 L149.08 174.52 L149.53 172.86 L150.01 171.32 L150.52 169.9 L151.03 168.56 L151.54 167.28 L152.05 166.1 L152.55 165.01 L153.06 164.02 L153.6 163.13 L154.17 162.36 L154.72 161.71 L155.22 161.18 L155.65 160.77 L155.98 160.47 L155.81 160.35 L155.46 160.62 L155 161.01 L154.45 161.52 L153.85 162.16 L153.24 162.93 L152.65 163.83 L152.09 164.82 L151.53 165.91 L150.98 167.09 L150.43 168.36 L149.88 169.7 L149.32 171.13 L148.78 172.69 L148.29 174.35 L147.81 176.03 L147.31 177.66 L146.77 179.17 L146.16 180.55 L145.51 181.93 L144.84 183.35 L144.13 184.72 L143.37 186 L142.56 187.19 L141.73 188.24 L140.83 189.2 L139.83 190.11 L138.76 190.96 L137.64 191.73 L136.51 192.41 L135.3 192.86 L134.14 193.21 L133.08 193.45 L132.1 193.57 L131.11 193.61 L130.03 193.55 L128.78 193.41 L127.3 193.16 L125.59 192.77 L123.69 192.27 L121.71 191.69 L119.7 191.04 L117.75 190.37 L115.86 189.79 L113.96 189.18 L112.02 188.51 L110.05 187.79 L108.06 187.02 L106.06 186.23 L104.08 185.42 L102.1 184.57 L100.11 183.68 L98.1 182.76 L96.08 181.81 L94.05 180.86 L92.06 179.91 L90.1 178.95 L88.13 177.97 L86.15 176.97 L84.12 175.93 L82.03 174.85 L79.72 173.63 L77.15 172.26 L74.53 170.85 L72.08 169.52 L70 168.39 L68.5 167.58 Z" fill="#3836b4" opacity="1"/><path d="M66.83 170.66 L68.33 171.47 L70.41 172.6 L72.87 173.93 L75.49 175.34 L78.08 176.72 L80.41 177.95 L82.51 179.04 L84.56 180.08 L86.57 181.1 L88.55 182.09 L90.54 183.06 L92.55 184.02 L94.59 184.98 L96.63 185.93 L98.66 186.87 L100.7 187.77 L102.73 188.65 L104.75 189.48 L106.79 190.28 L108.82 191.06 L110.84 191.81 L112.85 192.51 L114.85 193.14 L116.85 193.72 L118.9 194.3 L121.01 194.86 L123.11 195.35 L125.14 195.76 L127.03 196.05 L128.73 196.2 L130.2 196.23 L131.51 196.14 L132.71 195.94 L133.86 195.65 L135.02 195.25 L136.23 194.75 L137.49 194.16 L138.73 193.41 L139.95 192.57 L141.12 191.63 L142.23 190.63 L143.24 189.55 L144.18 188.37 L145.06 187.08 L145.88 185.69 L146.64 184.23 L147.34 182.74 L147.99 181.25 L148.56 179.72 L149.04 178.09 L149.47 176.39 L149.87 174.69 L150.27 173.04 L150.71 171.51 L151.17 170.09 L151.63 168.75 L152.1 167.47 L152.56 166.28 L153.02 165.19 L153.48 164.21 L153.97 163.33 L154.48 162.56 L154.99 161.9 L155.45 161.35 L155.85 160.92 L156.14 160.58 L155.98 160.47 L155.65 160.77 L155.22 161.18 L154.72 161.71 L154.17 162.36 L153.6 163.13 L153.06 164.02 L152.55 165.01 L152.05 166.1 L151.54 167.28 L151.03 168.56 L150.52 169.9 L150.01 171.32 L149.53 172.86 L149.08 174.52 L148.64 176.21 L148.18 177.87 L147.67 179.45 L147.07 180.9 L146.42 182.33 L145.74 183.79 L145 185.2 L144.21 186.54 L143.37 187.78 L142.49 188.89 L141.53 189.91 L140.47 190.87 L139.35 191.76 L138.19 192.57 L137 193.29 L135.77 193.81 L134.58 194.23 L133.47 194.55 L132.4 194.76 L131.31 194.87 L130.12 194.89 L128.76 194.81 L127.17 194.6 L125.36 194.26 L123.4 193.81 L121.36 193.27 L119.3 192.67 L117.3 192.05 L115.36 191.47 L113.4 190.85 L111.43 190.16 L109.43 189.43 L107.42 188.65 L105.41 187.85 L103.4 187.03 L101.4 186.17 L99.39 185.27 L97.36 184.35 L95.33 183.4 L93.3 182.44 L91.3 181.48 L89.33 180.52 L87.35 179.53 L85.35 178.52 L83.31 177.48 L81.22 176.4 L78.9 175.18 L76.32 173.8 L73.7 172.39 L71.25 171.06 L69.16 169.93 L67.66 169.12 Z" fill="#3a32b3" opacity="1"/><path d="M65.52 173.08 L67.02 173.89 L69.1 175.02 L71.56 176.35 L74.19 177.77 L76.79 179.15 L79.14 180.39 L81.26 181.48 L83.31 182.54 L85.33 183.56 L87.34 184.55 L89.34 185.53 L91.37 186.5 L93.42 187.47 L95.47 188.43 L97.53 189.37 L99.6 190.29 L101.66 191.18 L103.73 192.03 L105.79 192.84 L107.85 193.64 L109.91 194.4 L111.98 195.12 L114.06 195.78 L116.14 196.37 L118.26 196.91 L120.44 197.42 L122.63 197.87 L124.77 198.24 L126.81 198.49 L128.68 198.6 L130.36 198.56 L131.87 198.39 L133.26 198.1 L134.58 197.7 L135.85 197.19 L137.14 196.6 L138.48 195.9 L139.82 195.09 L141.14 194.17 L142.42 193.16 L143.63 192.05 L144.76 190.85 L145.79 189.55 L146.74 188.15 L147.62 186.66 L148.43 185.12 L149.16 183.55 L149.83 181.96 L150.41 180.29 L150.88 178.54 L151.28 176.78 L151.63 175.06 L151.98 173.44 L152.36 171.97 L152.77 170.58 L153.19 169.24 L153.6 167.98 L154.01 166.81 L154.42 165.75 L154.81 164.82 L155.21 164.01 L155.64 163.3 L156.07 162.68 L156.48 162.13 L156.84 161.66 L157.11 161.28 L156.14 160.58 L155.85 160.92 L155.45 161.35 L154.99 161.9 L154.48 162.56 L153.97 163.33 L153.48 164.21 L153.02 165.19 L152.56 166.28 L152.1 167.47 L151.63 168.75 L151.17 170.09 L150.71 171.51 L150.27 173.04 L149.87 174.69 L149.47 176.39 L149.04 178.09 L148.56 179.72 L147.99 181.25 L147.34 182.74 L146.64 184.23 L145.88 185.69 L145.06 187.08 L144.18 188.37 L143.24 189.55 L142.23 190.63 L141.12 191.63 L139.95 192.57 L138.73 193.41 L137.49 194.16 L136.23 194.75 L135.02 195.25 L133.86 195.65 L132.71 195.94 L131.51 196.14 L130.2 196.23 L128.73 196.2 L127.03 196.05 L125.14 195.76 L123.11 195.35 L121.01 194.86 L118.9 194.3 L116.85 193.72 L114.85 193.14 L112.85 192.51 L110.84 191.81 L108.82 191.06 L106.79 190.28 L104.75 189.48 L102.73 188.65 L100.7 187.77 L98.66 186.87 L96.63 185.93 L94.59 184.98 L92.55 184.02 L90.54 183.06 L88.55 182.09 L86.57 181.1 L84.56 180.08 L82.51 179.04 L80.41 177.95 L78.08 176.72 L75.49 175.34 L72.87 173.93 L70.41 172.6 L68.33 171.47 L66.83 170.66 Z" fill="#3b2fb2" opacity="1"/><path d="M66.83 170.66 L68.33 171.47 L70.41 172.6 L72.87 173.93 L75.49 175.34 L78.08 176.72 L80.41 177.95 L82.51 179.04 L84.56 180.08 L86.57 181.1 L88.55 182.09 L90.54 183.06 L92.55 184.02 L94.59 184.98 L96.63 185.93 L98.66 186.87 L100.7 187.77 L102.73 188.65 L104.75 189.48 L106.79 190.28 L108.82 191.06 L110.84 191.81 L112.85 192.51 L114.85 193.14 L116.85 193.72 L118.9 194.3 L121.01 194.86 L123.11 195.35 L125.14 195.76 L127.03 196.05 L128.73 196.2 L130.2 196.23 L131.51 196.14 L132.71 195.94 L133.86 195.65 L135.02 195.25 L136.23 194.75 L137.49 194.16 L138.73 193.41 L139.95 192.57 L141.12 191.63 L142.23 190.63 L143.24 189.55 L144.18 188.37 L145.06 187.08 L145.88 185.69 L146.64 184.23 L147.34 182.74 L147.99 181.25 L148.56 179.72 L149.04 178.09 L149.47 176.39 L149.87 174.69 L150.27 173.04 L150.71 171.51 L151.17 170.09 L151.63 168.75 L152.1 167.47 L152.56 166.28 L153.02 165.19 L153.48 164.21 L153.97 163.33 L154.48 162.56 L154.99 161.9 L155.45 161.35 L155.85 160.92 L156.14 160.58" fill="none" stroke="#0a1030" stroke-width="0.5" opacity="0.57"/><path d="M67.66 169.12 L69.16 169.93 L71.25 171.06 L73.7 172.39 L76.32 173.8 L78.9 175.18 L81.22 176.4 L83.31 177.48 L85.35 178.52 L87.35 179.53 L89.33 180.52 L91.3 181.48 L93.3 182.44 L95.33 183.4 L97.36 184.35 L99.39 185.27 L101.4 186.17 L103.4 187.03 L105.41 187.85 L107.42 188.65 L109.43 189.43 L111.43 190.16 L113.4 190.85 L115.36 191.47 L117.3 192.05 L119.3 192.67 L121.36 193.27 L123.4 193.81 L125.36 194.26 L127.17 194.6 L128.76 194.81 L130.12 194.89 L131.31 194.87 L132.4 194.76 L133.47 194.55 L134.58 194.23 L135.77 193.81 L137 193.29 L138.19 192.57 L139.35 191.76 L140.47 190.87 L141.53 189.91 L142.49 188.89 L143.37 187.78 L144.21 186.54 L145 185.2 L145.74 183.79 L146.42 182.33 L147.07 180.9 L147.67 179.45 L148.18 177.87 L148.64 176.21 L149.08 174.52 L149.53 172.86 L150.01 171.32 L150.52 169.9 L151.03 168.56 L151.54 167.28 L152.05 166.1 L152.55 165.01 L153.06 164.02 L153.6 163.13 L154.17 162.36 L154.72 161.71 L155.22 161.18 L155.65 160.77 L155.98 160.47" fill="none" stroke="#0a1030" stroke-width="0.5" opacity="0.53"/><path d="M68.5 167.58 L70 168.39 L72.08 169.52 L74.53 170.85 L77.15 172.26 L79.72 173.63 L82.03 174.85 L84.12 175.93 L86.15 176.97 L88.13 177.97 L90.1 178.95 L92.06 179.91 L94.05 180.86 L96.08 181.81 L98.1 182.76 L100.11 183.68 L102.1 184.57 L104.08 185.42 L106.06 186.23 L108.06 187.02 L110.05 187.79 L112.02 188.51 L113.96 189.18 L115.86 189.79 L117.75 190.37 L119.7 191.04 L121.71 191.69 L123.69 192.27 L125.59 192.77 L127.3 193.16 L128.78 193.41 L130.03 193.55 L131.11 193.61 L132.1 193.57 L133.08 193.45 L134.14 193.21 L135.3 192.86 L136.51 192.41 L137.64 191.73 L138.76 190.96 L139.83 190.11 L140.83 189.2 L141.73 188.24 L142.56 187.19 L143.37 186 L144.13 184.72 L144.84 183.35 L145.51 181.93 L146.16 180.55 L146.77 179.17 L147.31 177.66 L147.81 176.03 L148.29 174.35 L148.78 172.69 L149.32 171.13 L149.88 169.7 L150.43 168.36 L150.98 167.09 L151.53 165.91 L152.09 164.82 L152.65 163.83 L153.24 162.93 L153.85 162.16 L154.45 161.52 L155 161.01 L155.46 160.62 L155.81 160.35" fill="none" stroke="#0a1030" stroke-width="0.5" opacity="0.48"/><path d="M69.33 166.04 L70.83 166.85 L72.91 167.98 L75.36 169.31 L77.98 170.72 L80.54 172.08 L82.84 173.29 L84.92 174.37 L86.94 175.41 L88.92 176.4 L90.87 177.38 L92.82 178.33 L94.81 179.28 L96.82 180.23 L98.83 181.17 L100.83 182.08 L102.8 182.97 L104.76 183.81 L106.71 184.61 L108.69 185.39 L110.67 186.15 L112.61 186.87 L114.51 187.52 L116.37 188.12 L118.21 188.69 L120.09 189.41 L122.06 190.1 L123.99 190.73 L125.81 191.28 L127.44 191.71 L128.81 192.02 L129.94 192.22 L130.91 192.34 L131.79 192.39 L132.7 192.34 L133.71 192.19 L134.84 191.92 L136.02 191.54 L137.1 190.89 L138.16 190.16 L139.18 189.35 L140.12 188.49 L140.97 187.59 L141.76 186.59 L142.52 185.47 L143.26 184.23 L143.95 182.9 L144.59 181.52 L145.24 180.2 L145.88 178.9 L146.44 177.45 L146.98 175.85 L147.5 174.19 L148.04 172.51 L148.63 170.93 L149.23 169.51 L149.83 168.17 L150.42 166.91 L151.02 165.72 L151.62 164.63 L152.23 163.64 L152.87 162.73 L153.54 161.96 L154.18 161.33 L154.77 160.83 L155.26 160.48 L155.65 160.23" fill="none" stroke="#0a1030" stroke-width="0.5" opacity="0.44"/><path d="M70.16 164.5 L71.66 165.31 L73.75 166.44 L76.2 167.77 L78.8 169.17 L81.35 170.54 L83.65 171.74 L85.72 172.81 L87.73 173.85 L89.7 174.84 L91.65 175.81 L93.59 176.75 L95.56 177.7 L97.56 178.65 L99.57 179.58 L101.55 180.49 L103.51 181.36 L105.43 182.19 L107.37 182.98 L109.33 183.76 L111.29 184.51 L113.2 185.22 L115.06 185.86 L116.87 186.44 L118.66 187.02 L120.49 187.78 L122.41 188.52 L124.28 189.19 L126.03 189.78 L127.57 190.26 L128.84 190.62 L129.85 190.88 L130.71 191.07 L131.49 191.2 L132.31 191.24 L133.27 191.16 L134.37 190.97 L135.53 190.67 L136.55 190.05 L137.56 189.35 L138.53 188.59 L139.42 187.78 L140.22 186.93 L140.95 186 L141.68 184.93 L142.38 183.74 L143.05 182.46 L143.68 181.12 L144.33 179.85 L144.98 178.62 L145.58 177.23 L146.15 175.67 L146.71 174.02 L147.3 172.34 L147.93 170.74 L148.58 169.31 L149.22 167.98 L149.86 166.72 L150.51 165.53 L151.15 164.45 L151.81 163.44 L152.51 162.53 L153.23 161.76 L153.91 161.13 L154.54 160.66 L155.07 160.33 L155.49 160.12" fill="none" stroke="#0a1030" stroke-width="0.5" opacity="0.4"/><path d="M70.99 162.96 L72.49 163.77 L74.58 164.9 L77.03 166.23 L79.63 167.63 L82.17 168.99 L84.46 170.19 L86.52 171.26 L88.53 172.29 L90.49 173.28 L92.42 174.24 L94.35 175.18 L96.31 176.12 L98.31 177.06 L100.3 177.99 L102.27 178.9 L104.21 179.76 L106.11 180.58 L108.02 181.36 L109.97 182.13 L111.9 182.88 L113.79 183.57 L115.61 184.2 L117.37 184.76 L119.11 185.34 L120.89 186.15 L122.75 186.93 L124.57 187.66 L126.25 188.29 L127.71 188.82 L128.87 189.23 L129.77 189.55 L130.51 189.81 L131.18 190.01 L131.92 190.14 L132.83 190.14 L133.9 190.02 L135.04 189.8 L136.01 189.21 L136.97 188.55 L137.88 187.83 L138.72 187.06 L139.46 186.28 L140.15 185.41 L140.83 184.4 L141.51 183.26 L142.16 182.02 L142.77 180.71 L143.41 179.5 L144.09 178.35 L144.71 177.02 L145.32 175.49 L145.92 173.85 L146.56 172.16 L147.24 170.55 L147.94 169.11 L148.62 167.79 L149.31 166.53 L149.99 165.35 L150.69 164.26 L151.39 163.25 L152.14 162.33 L152.91 161.55 L153.65 160.94 L154.31 160.49 L154.87 160.19 L155.33 160" fill="none" stroke="#0a1030" stroke-width="0.5" opacity="0.35"/><path d="M71.82 161.42 L73.33 162.24 L75.41 163.37 L77.86 164.69 L80.46 166.09 L82.99 167.44 L85.27 168.64 L87.32 169.7 L89.32 170.73 L91.27 171.71 L93.19 172.67 L95.11 173.6 L97.06 174.54 L99.05 175.48 L101.04 176.41 L102.99 177.3 L104.91 178.16 L106.79 178.96 L108.67 179.74 L110.6 180.5 L112.52 181.24 L114.38 181.92 L116.16 182.54 L117.88 183.09 L119.56 183.66 L121.29 184.51 L123.1 185.35 L124.86 186.12 L126.47 186.8 L127.84 187.37 L128.89 187.83 L129.68 188.21 L130.31 188.54 L130.88 188.83 L131.53 189.04 L132.39 189.12 L133.44 189.08 L134.55 188.93 L135.47 188.37 L136.37 187.75 L137.23 187.07 L138.02 186.35 L138.7 185.62 L139.34 184.82 L139.99 183.86 L140.63 182.77 L141.26 181.57 L141.85 180.3 L142.5 179.15 L143.19 178.08 L143.84 176.8 L144.49 175.31 L145.14 173.69 L145.81 171.99 L146.55 170.36 L147.29 168.92 L148.02 167.59 L148.75 166.34 L149.48 165.16 L150.22 164.07 L150.97 163.06 L151.78 162.13 L152.6 161.35 L153.38 160.75 L154.08 160.31 L154.68 160.04 L155.16 159.88" fill="none" stroke="#0a1030" stroke-width="0.5" opacity="0.3"/><path d="M72.65 159.88 L74.16 160.7 L76.25 161.83 L78.69 163.15 L81.28 164.55 L83.81 165.9 L86.08 167.09 L88.12 168.14 L90.11 169.17 L92.06 170.15 L93.97 171.1 L95.87 172.03 L97.81 172.96 L99.8 173.89 L101.77 174.82 L103.71 175.71 L105.61 176.55 L107.47 177.35 L109.33 178.11 L111.24 178.87 L113.14 179.6 L114.97 180.27 L116.72 180.88 L118.38 181.41 L120.01 181.99 L121.69 182.88 L123.45 183.76 L125.15 184.58 L126.7 185.31 L127.98 185.93 L128.92 186.44 L129.59 186.88 L130.11 187.28 L130.57 187.64 L131.15 187.93 L131.96 188.1 L132.97 188.13 L134.05 188.06 L134.92 187.54 L135.78 186.94 L136.59 186.3 L137.32 185.64 L137.95 184.97 L138.53 184.23 L139.14 183.33 L139.76 182.28 L140.36 181.13 L140.94 179.9 L141.58 178.8 L142.3 177.8 L142.98 176.59 L143.66 175.13 L144.35 173.52 L145.07 171.81 L145.85 170.17 L146.64 168.72 L147.41 167.4 L148.19 166.15 L148.97 164.97 L149.75 163.89 L150.56 162.87 L151.41 161.93 L152.28 161.15 L153.11 160.56 L153.86 160.14 L154.48 159.89 L155 159.76" fill="none" stroke="#0a1030" stroke-width="0.5" opacity="0.26"/><path d="M73.49 158.34 L74.99 159.16 L77.08 160.29 L79.52 161.61 L82.11 163.01 L84.63 164.35 L86.88 165.54 L88.92 166.59 L90.91 167.61 L92.84 168.58 L94.74 169.53 L96.63 170.45 L98.56 171.38 L100.54 172.31 L102.51 173.23 L104.43 174.11 L106.31 174.95 L108.14 175.74 L109.98 176.49 L111.88 177.24 L113.76 177.96 L115.55 178.63 L117.27 179.22 L118.89 179.74 L120.46 180.31 L122.09 181.25 L123.8 182.18 L125.44 183.04 L126.92 183.81 L128.11 184.48 L128.95 185.04 L129.51 185.54 L129.91 186.01 L130.27 186.45 L130.76 186.83 L131.52 187.08 L132.51 187.19 L133.56 187.19 L134.38 186.7 L135.18 186.14 L135.94 185.54 L136.61 184.93 L137.19 184.32 L137.73 183.64 L138.3 182.79 L138.89 181.8 L139.47 180.69 L140.02 179.49 L140.67 178.45 L141.4 177.53 L142.11 176.38 L142.83 174.95 L143.56 173.35 L144.33 171.64 L145.16 169.98 L145.99 168.52 L146.81 167.21 L147.63 165.96 L148.45 164.79 L149.28 163.7 L150.14 162.68 L151.05 161.73 L151.97 160.95 L152.84 160.37 L153.63 159.97 L154.29 159.75 L154.84 159.65" fill="none" stroke="#0a1030" stroke-width="0.5" opacity="0.22"/><path d="M156.5 150 L156 162 L153 168 L150.3 181 L146.5 188.5" fill="none" stroke="#03140f" stroke-width="4.5" filter="url(#b2)" opacity="0.9"/></g>
<path d="M66 172.2 C66.75 170.8 68.58 166.92 70.5 163.8 C72.42 160.68 73.83 157.67 77.5 153.5 C81.17 149.33 87.5 143.1 92.5 138.8 C97.5 134.5 102.5 131.17 107.5 127.7 C112.5 124.23 117.5 120.98 122.5 118 C127.5 115.02 132.5 112.3 137.5 109.8 C142.5 107.3 147.92 105.03 152.5 103 C157.08 100.97 159.72 100 165 97.6 C170.28 95.2 181 90.1 184.2 88.6 L195.3 92.3 L207.5 97.2 L219.8 101.5" fill="none" stroke="#10243c" stroke-width="0.5" opacity="0.6"/>
<path d="M156.4 141.2 C156.53 140.83 156.35 140.28 157.2 139 C158.05 137.72 159.7 135.18 161.5 133.5 C163.3 131.82 165.83 130.32 168 128.9 C170.17 127.48 172.33 126.18 174.5 125 C176.67 123.82 178.82 122.83 181 121.8 C183.18 120.77 184.43 120.18 187.6 118.8 C190.77 117.42 195.43 115.35 200 113.5 C204.57 111.65 210 109.6 215 107.7 C220 105.8 220.22 105.72 230 102.1 C239.78 98.48 266.42 88.68 273.7 86 L274.9 94.6 C268.55 96.78 246.78 104.27 236.8 107.7 C226.82 111.13 221.13 113.08 215 115.2 C208.87 117.32 204.57 118.83 200 120.4 C195.43 121.97 190.77 123.52 187.6 124.6 C184.43 125.68 183.18 126.08 181 126.9 C178.82 127.72 176.67 128.57 174.5 129.5 C172.33 130.43 170.17 131.4 168 132.5 C165.83 133.6 163.08 135.03 161.5 136.1 C159.92 137.17 159.27 137.93 158.5 138.9 C157.73 139.87 157.17 141.4 156.9 141.9 Z" fill="#bfa42a"/>
<path d="M156.4 141.2 C156.53 140.83 156.35 140.28 157.2 139 C158.05 137.72 159.7 135.18 161.5 133.5 C163.3 131.82 165.83 130.32 168 128.9 C170.17 127.48 172.33 126.18 174.5 125 C176.67 123.82 178.82 122.83 181 121.8 C183.18 120.77 184.43 120.18 187.6 118.8 C190.77 117.42 195.43 115.35 200 113.5 C204.57 111.65 210 109.6 215 107.7 C220 105.8 220.22 105.72 230 102.1 C239.78 98.48 266.42 88.68 273.7 86" fill="none" stroke="#4a3a10" stroke-width="0.6" opacity="0.7"/>
<path d="M156.8 236.4 L156.9 141.9 C157.17 141.4 157.73 139.87 158.5 138.9 C159.27 137.93 159.92 137.17 161.5 136.1 C163.08 135.03 165.83 133.6 168 132.5 C170.17 131.4 172.33 130.43 174.5 129.5 C176.67 128.57 178.82 127.72 181 126.9 C183.18 126.08 184.43 125.68 187.6 124.6 C190.77 123.52 195.43 121.97 200 120.4 C204.57 118.83 208.87 117.32 215 115.2 C221.13 113.08 226.82 111.13 236.8 107.7 C246.78 104.27 268.55 96.78 274.9 94.6 L276.2 195.4 Z" fill="#2d1b8a"/>
<path d="M156.8 236.4 L156.9 141.9 C157.17 141.4 157.73 139.87 158.5 138.9 C159.27 137.93 159.92 137.17 161.5 136.1 C163.08 135.03 165.83 133.6 168 132.5 C170.17 131.4 172.33 130.43 174.5 129.5 C176.67 128.57 178.82 127.72 181 126.9 C183.18 126.08 184.43 125.68 187.6 124.6 C190.77 123.52 195.43 121.97 200 120.4 C204.57 118.83 208.87 117.32 215 115.2 C221.13 113.08 226.82 111.13 236.8 107.7 C246.78 104.27 268.55 96.78 274.9 94.6 L276.2 195.4 Z" fill="url(#st)"/>
<path d="M156.9 141.9 C157.17 141.4 157.73 139.87 158.5 138.9 C159.27 137.93 159.92 137.17 161.5 136.1 C163.08 135.03 165.83 133.6 168 132.5 C170.17 131.4 172.33 130.43 174.5 129.5 C176.67 128.57 178.82 127.72 181 126.9 C183.18 126.08 184.43 125.68 187.6 124.6 C190.77 123.52 195.43 121.97 200 120.4 C204.57 118.83 208.87 117.32 215 115.2 C221.13 113.08 226.82 111.13 236.8 107.7 C246.78 104.27 268.55 96.78 274.9 94.6" fill="none" stroke="#1c1050" stroke-width="0.6" opacity="0.8"/>
<path d="M156.5 141.5 L156.6 160.5" fill="none" stroke="#a8962c" stroke-width="0.8" opacity="0.85"/>
<g fill="none" shape-rendering="geometricPrecision"><line x1="415.6" y1="183" x2="535.1" y2="141.9" stroke="#ececec" stroke-width="0.65"/><line x1="535.1" y1="141.9" x2="627.8" y2="195.3" stroke="#ececec" stroke-width="0.65"/><line x1="415.6" y1="163.55" x2="535.1" y2="122.45" stroke="#ececec" stroke-width="0.65"/><line x1="535.1" y1="122.45" x2="627.8" y2="175.85" stroke="#ececec" stroke-width="0.65"/><line x1="415.6" y1="144.1" x2="535.1" y2="103" stroke="#ececec" stroke-width="0.65"/><line x1="535.1" y1="103" x2="627.8" y2="156.4" stroke="#ececec" stroke-width="0.65"/><line x1="415.6" y1="124.65" x2="535.1" y2="83.55" stroke="#ececec" stroke-width="0.65"/><line x1="535.1" y1="83.55" x2="627.8" y2="136.95" stroke="#ececec" stroke-width="0.65"/><line x1="415.6" y1="105.2" x2="535.1" y2="64.1" stroke="#ececec" stroke-width="0.65"/><line x1="535.1" y1="64.1" x2="627.8" y2="117.5" stroke="#ececec" stroke-width="0.65"/><line x1="415.6" y1="85.75" x2="535.1" y2="44.65" stroke="#ececec" stroke-width="0.65"/><line x1="535.1" y1="44.65" x2="627.8" y2="98.05" stroke="#ececec" stroke-width="0.65"/><line x1="415.6" y1="66.3" x2="535.1" y2="25.2" stroke="#ececec" stroke-width="0.65"/><line x1="535.1" y1="25.2" x2="627.8" y2="78.6" stroke="#ececec" stroke-width="0.65"/><line x1="455.43" y1="169.3" x2="455.43" y2="52.6" stroke="#ececec" stroke-width="0.65"/><line x1="566" y1="159.7" x2="566" y2="43" stroke="#ececec" stroke-width="0.65"/><line x1="495.27" y1="155.6" x2="495.27" y2="38.9" stroke="#ececec" stroke-width="0.65"/><line x1="596.9" y1="177.5" x2="596.9" y2="60.8" stroke="#ececec" stroke-width="0.65"/><line x1="535.1" y1="141.9" x2="535.1" y2="25.2" stroke="#ececec" stroke-width="0.65"/><line x1="627.8" y1="195.3" x2="627.8" y2="78.6" stroke="#ececec" stroke-width="0.65"/><line x1="548.13" y1="222.7" x2="455.43" y2="169.3" stroke="#ececec" stroke-width="0.65"/><line x1="477.4" y1="218.6" x2="596.9" y2="177.5" stroke="#ececec" stroke-width="0.65"/><line x1="587.97" y1="209" x2="495.27" y2="155.6" stroke="#ececec" stroke-width="0.65"/><line x1="446.5" y1="200.8" x2="566" y2="159.7" stroke="#ececec" stroke-width="0.65"/><line x1="627.8" y1="195.3" x2="535.1" y2="141.9" stroke="#ececec" stroke-width="0.65"/><line x1="415.6" y1="183" x2="535.1" y2="141.9" stroke="#ececec" stroke-width="0.65"/><line x1="415.6" y1="183" x2="415.6" y2="66.3" stroke="#686868" stroke-width="0.62"/><line x1="415.6" y1="183" x2="508.3" y2="236.4" stroke="#686868" stroke-width="0.62"/><line x1="508.3" y1="236.4" x2="627.8" y2="195.3" stroke="#686868" stroke-width="0.62"/><line x1="508.3" y1="236.4" x2="505.46" y2="237.38" stroke="#686868" stroke-width="0.62"/><line x1="508.3" y1="236.4" x2="510.9" y2="237.9" stroke="#686868" stroke-width="0.62"/><line x1="477.4" y1="218.6" x2="474.56" y2="219.58" stroke="#686868" stroke-width="0.62"/><line x1="548.13" y1="222.7" x2="550.73" y2="224.2" stroke="#686868" stroke-width="0.62"/><line x1="446.5" y1="200.8" x2="443.66" y2="201.78" stroke="#686868" stroke-width="0.62"/><line x1="587.97" y1="209" x2="590.57" y2="210.5" stroke="#686868" stroke-width="0.62"/><line x1="415.6" y1="183" x2="412.76" y2="183.98" stroke="#686868" stroke-width="0.62"/><line x1="627.8" y1="195.3" x2="630.4" y2="196.8" stroke="#686868" stroke-width="0.62"/><line x1="415.6" y1="183" x2="413" y2="181.5" stroke="#686868" stroke-width="0.62"/><line x1="415.6" y1="163.55" x2="413" y2="162.05" stroke="#686868" stroke-width="0.62"/><line x1="415.6" y1="144.1" x2="413" y2="142.6" stroke="#686868" stroke-width="0.62"/><line x1="415.6" y1="124.65" x2="413" y2="123.15" stroke="#686868" stroke-width="0.62"/><line x1="415.6" y1="105.2" x2="413" y2="103.7" stroke="#686868" stroke-width="0.62"/><line x1="415.6" y1="85.75" x2="413" y2="84.25" stroke="#686868" stroke-width="0.62"/><line x1="415.6" y1="66.3" x2="413" y2="64.8" stroke="#686868" stroke-width="0.62"/></g>
<g font-family="'Liberation Sans', sans-serif" fill="#5a5a5a" stroke="#5a5a5a" stroke-width="0.12"><text transform="translate(410.7 183.5) scale(0.76 1)" text-anchor="end" font-size="8.5" >0</text><text transform="translate(410.7 164.05) scale(0.76 1)" text-anchor="end" font-size="8.5" >0.02</text><text transform="translate(410.7 144.6) scale(0.76 1)" text-anchor="end" font-size="8.5" >0.04</text><text transform="translate(410.7 125.15) scale(0.76 1)" text-anchor="end" font-size="8.5" >0.06</text><text transform="translate(410.7 105.7) scale(0.76 1)" text-anchor="end" font-size="8.5" >0.08</text><text transform="translate(410.7 86.25) scale(0.76 1)" text-anchor="end" font-size="8.5" >0.1</text><text transform="translate(410.7 66.8) scale(0.76 1)" text-anchor="end" font-size="8.5" >0.12</text><text transform="translate(500.4 246.8) scale(0.76 1)" text-anchor="middle" font-size="8.5" >0</text><text transform="translate(514.8 248.3) scale(0.76 1)" text-anchor="middle" font-size="8.5" >0</text><text transform="translate(469.5 229) scale(0.76 1)" text-anchor="middle" font-size="8.5" >1</text><text transform="translate(554.63 234.6) scale(0.76 1)" text-anchor="middle" font-size="8.5" >1</text><text transform="translate(438.6 211.2) scale(0.76 1)" text-anchor="middle" font-size="8.5" >2</text><text transform="translate(594.47 220.9) scale(0.76 1)" text-anchor="middle" font-size="8.5" >2</text><text transform="translate(407.7 193.4) scale(0.76 1)" text-anchor="middle" font-size="8.5" >3</text><text transform="translate(634.3 207.2) scale(0.76 1)" text-anchor="middle" font-size="8.5" >3</text><text transform="translate(521.7 21.7) scale(0.76 1)" text-anchor="middle" font-size="9.2" fill="#3c3c3c" stroke="#3c3c3c" stroke-width="0.2">variance</text><text transform="translate(393.3 125) rotate(-90) scale(1 0.76)" text-anchor="middle" font-size="9.0">variance</text><text transform="translate(467.6 247.2) scale(0.9 1)" text-anchor="middle" font-size="8.4" font-family="'Liberation Serif', serif" font-style="italic" fill="#8a8a8a">θ</text><text transform="translate(554.3 250.6) scale(0.9 1)" text-anchor="middle" font-size="8.4" font-family="'Liberation Serif', serif" font-style="italic" fill="#8a8a8a">β</text></g>
<g clip-path="url(#cb)"><path d="M417 179.8 C417.75 178.75 419.75 175.63 421.5 173.5 C423.25 171.37 425.33 169 427.5 167 C429.67 165 432 163.25 434.5 161.5 C437 159.75 439.53 158.2 442.5 156.5 C445.47 154.8 448.62 153.18 452.3 151.3 C455.98 149.42 460.52 147.12 464.6 145.2 C468.68 143.28 472.72 141.58 476.8 139.8 C480.88 138.02 485 136.17 489.1 134.5 C493.2 132.83 498.23 130.98 501.4 129.8 C504.57 128.62 502.35 129.2 508.1 127.4 C513.85 125.6 531.27 120.4 535.9 119 L548 125.4 L548 140 L509 140 L509 174.2 C507.67 174.63 503.33 175.87 501 176.8 C498.67 177.73 496.5 178.52 495 179.8 C493.5 181.08 493 182.38 492 184.5 C491 186.62 490.5 190.03 489 192.5 C487.5 194.97 485.25 197.55 483 199.3 C480.75 201.05 478 202.38 475.5 203 C473 203.62 471 203.5 468 203 C465 202.5 461.75 201.5 457.5 200 C453.25 198.5 447.5 196.25 442.5 194 C437.5 191.75 431.75 188.87 427.5 186.5 C423.25 184.13 418.75 180.92 417 179.8 Z" fill="url(#gb)"/><path d="M489 192.5 C488 193.63 485.25 197.55 483 199.3 C480.75 201.05 478 202.38 475.5 203 C473 203.62 471 203.5 468 203 C465 202.5 461.75 201.5 457.5 200 C453.25 198.5 447.5 196.25 442.5 194 C437.5 191.75 431.75 188.87 427.5 186.5 C423.25 184.13 418.75 180.92 417 179.8" fill="none" stroke="#262c8c" stroke-width="22" filter="url(#b3)" opacity="0.9"/><path d="M421.96 172.29 L423.09 173.04 L424.57 174.03 L426.26 175.17 L428.11 176.36 L430.01 177.55 L431.92 178.66 L433.98 179.79 L436.3 181 L438.75 182.25 L441.26 183.48 L443.76 184.68 L446.19 185.79 L448.61 186.85 L451.1 187.9 L453.61 188.92 L456.06 189.87 L458.38 190.75 L460.5 191.52 L462.43 192.18 L464.17 192.76 L465.73 193.23 L467.09 193.74 L468.26 194.36 L469.39 194.92 L470.45 195.42 L471.33 195.85 L472.02 196.22 L472.62 196.54 L473.24 196.8 L474.01 196.98 L474.93 197.06 L475.95 197.04 L476.96 196.73 L477.92 196.22 L478.83 195.65 L479.68 195.04 L480.52 194.34 L481.38 193.52 L482.23 192.6 L483.03 191.63 L483.89 190.74 L484.74 190.01 L485.46 189.29 L486.16 188.35 L486.87 187.17 L487.59 185.87 L488.36 184.51 L489.21 183.22 L490.13 182.13 L491.05 181.21 L491.93 180.44 L492.74 179.84 L493.44 179.4 L494.01 179.12 L493.85 179.01 L493.24 179.25 L492.49 179.66 L491.64 180.24 L490.7 180.99 L489.73 181.9 L488.75 183.01 L487.83 184.32 L487 185.68 L486.23 186.97 L485.49 188.1 L484.76 188.97 L484.03 189.6 L483.17 190.24 L482.32 191.08 L481.55 192.01 L480.74 192.88 L479.92 193.67 L479.13 194.33 L478.33 194.9 L477.47 195.44 L476.57 195.92 L475.6 196.18 L474.62 196.13 L473.76 195.98 L473.07 195.72 L472.53 195.39 L472.03 195.02 L471.43 194.6 L470.62 194.12 L469.62 193.57 L468.56 192.97 L467.45 192.31 L466.15 191.79 L464.62 191.33 L462.91 190.76 L461.01 190.1 L458.9 189.34 L456.59 188.47 L454.16 187.53 L451.67 186.52 L449.2 185.48 L446.8 184.42 L444.4 183.32 L441.91 182.13 L439.42 180.9 L436.99 179.67 L434.69 178.46 L432.65 177.35 L430.78 176.26 L428.91 175.1 L427.09 173.91 L425.41 172.79 L423.92 171.79 L422.78 171.04 Z" fill="#282e92" opacity="0.25"/><path d="M421.13 173.54 L422.26 174.28 L423.73 175.28 L425.44 176.42 L427.3 177.63 L429.24 178.83 L431.18 179.96 L433.28 181.11 L435.61 182.33 L438.07 183.59 L440.6 184.83 L443.13 186.03 L445.57 187.16 L448.02 188.23 L450.53 189.29 L453.05 190.31 L455.52 191.28 L457.86 192.15 L460 192.93 L461.95 193.6 L463.71 194.19 L465.31 194.67 L466.72 195.18 L467.97 195.76 L469.16 196.27 L470.28 196.72 L471.23 197.1 L472 197.42 L472.7 197.68 L473.42 197.87 L474.26 197.99 L475.23 197.99 L476.3 197.89 L477.36 197.54 L478.36 197 L479.33 196.4 L480.24 195.75 L481.12 195.01 L482.02 194.15 L482.9 193.2 L483.74 192.19 L484.61 191.24 L485.45 190.43 L486.16 189.61 L486.84 188.59 L487.51 187.37 L488.18 186.05 L488.89 184.7 L489.68 183.44 L490.53 182.35 L491.39 181.43 L492.22 180.64 L492.99 180.01 L493.65 179.54 L494.18 179.23 L494.01 179.12 L493.44 179.4 L492.74 179.84 L491.93 180.44 L491.05 181.21 L490.13 182.13 L489.21 183.22 L488.36 184.51 L487.59 185.87 L486.87 187.17 L486.16 188.35 L485.46 189.29 L484.74 190.01 L483.89 190.74 L483.03 191.63 L482.23 192.6 L481.38 193.52 L480.52 194.34 L479.68 195.04 L478.83 195.65 L477.92 196.22 L476.96 196.73 L475.95 197.04 L474.93 197.06 L474.01 196.98 L473.24 196.8 L472.62 196.54 L472.02 196.22 L471.33 195.85 L470.45 195.42 L469.39 194.92 L468.26 194.36 L467.09 193.74 L465.73 193.23 L464.17 192.76 L462.43 192.18 L460.5 191.52 L458.38 190.75 L456.06 189.87 L453.61 188.92 L451.1 187.9 L448.61 186.85 L446.19 185.79 L443.76 184.68 L441.26 183.48 L438.75 182.25 L436.3 181 L433.98 179.79 L431.92 178.66 L430.01 177.55 L428.11 176.36 L426.26 175.17 L424.57 174.03 L423.09 173.04 L421.96 172.29 Z" fill="#2a2e97" opacity="0.5"/><path d="M420.31 174.79 L421.42 175.53 L422.9 176.52 L424.61 177.67 L426.5 178.9 L428.46 180.12 L430.44 181.27 L432.57 182.43 L434.92 183.67 L437.4 184.93 L439.95 186.18 L442.49 187.39 L444.96 188.53 L447.42 189.61 L449.96 190.68 L452.5 191.71 L454.98 192.68 L457.34 193.56 L459.5 194.34 L461.47 195.02 L463.26 195.61 L464.89 196.11 L466.35 196.61 L467.67 197.15 L468.93 197.61 L470.11 198.02 L471.13 198.35 L471.99 198.62 L472.78 198.82 L473.59 198.95 L474.51 198.99 L475.54 198.92 L476.65 198.74 L477.76 198.34 L478.81 197.78 L479.83 197.15 L480.79 196.46 L481.72 195.68 L482.66 194.78 L483.58 193.79 L484.45 192.75 L485.32 191.74 L486.16 190.84 L486.87 189.93 L487.52 188.83 L488.14 187.57 L488.76 186.23 L489.42 184.89 L490.14 183.65 L490.93 182.57 L491.73 181.64 L492.51 180.85 L493.23 180.19 L493.85 179.69 L494.34 179.35 L494.18 179.23 L493.65 179.54 L492.99 180.01 L492.22 180.64 L491.39 181.43 L490.53 182.35 L489.68 183.44 L488.89 184.7 L488.18 186.05 L487.51 187.37 L486.84 188.59 L486.16 189.61 L485.45 190.43 L484.61 191.24 L483.74 192.19 L482.9 193.2 L482.02 194.15 L481.12 195.01 L480.24 195.75 L479.33 196.4 L478.36 197 L477.36 197.54 L476.3 197.89 L475.23 197.99 L474.26 197.99 L473.42 197.87 L472.7 197.68 L472 197.42 L471.23 197.1 L470.28 196.72 L469.16 196.27 L467.97 195.76 L466.72 195.18 L465.31 194.67 L463.71 194.19 L461.95 193.6 L460 192.93 L457.86 192.15 L455.52 191.28 L453.05 190.31 L450.53 189.29 L448.02 188.23 L445.57 187.16 L443.13 186.03 L440.6 184.83 L438.07 183.59 L435.61 182.33 L433.28 181.11 L431.18 179.96 L429.24 178.83 L427.3 177.63 L425.44 176.42 L423.73 175.28 L422.26 174.28 L421.13 173.54 Z" fill="#2c2e9c" opacity="0.75"/><path d="M419.48 176.04 L420.59 176.78 L422.06 177.77 L423.79 178.92 L425.69 180.16 L427.69 181.4 L429.71 182.58 L431.86 183.75 L434.23 185 L436.73 186.27 L439.3 187.53 L441.86 188.75 L444.34 189.9 L446.83 190.99 L449.38 192.06 L451.94 193.1 L454.44 194.08 L456.82 194.97 L459 195.76 L460.99 196.45 L462.81 197.04 L464.47 197.55 L465.99 198.04 L467.37 198.54 L468.7 198.96 L469.94 199.32 L471.02 199.6 L471.98 199.82 L472.86 199.96 L473.76 200.02 L474.75 199.99 L475.85 199.85 L477 199.6 L478.15 199.15 L479.26 198.56 L480.33 197.9 L481.34 197.17 L482.32 196.35 L483.3 195.41 L484.25 194.39 L485.15 193.3 L486.04 192.24 L486.87 191.26 L487.57 190.24 L488.19 189.07 L488.78 187.77 L489.35 186.42 L489.95 185.08 L490.61 183.86 L491.33 182.8 L492.08 181.86 L492.81 181.05 L493.48 180.37 L494.06 179.84 L494.51 179.46 L494.34 179.35 L493.85 179.69 L493.23 180.19 L492.51 180.85 L491.73 181.64 L490.93 182.57 L490.14 183.65 L489.42 184.89 L488.76 186.23 L488.14 187.57 L487.52 188.83 L486.87 189.93 L486.16 190.84 L485.32 191.74 L484.45 192.75 L483.58 193.79 L482.66 194.78 L481.72 195.68 L480.79 196.46 L479.83 197.15 L478.81 197.78 L477.76 198.34 L476.65 198.74 L475.54 198.92 L474.51 198.99 L473.59 198.95 L472.78 198.82 L471.99 198.62 L471.13 198.35 L470.11 198.02 L468.93 197.61 L467.67 197.15 L466.35 196.61 L464.89 196.11 L463.26 195.61 L461.47 195.02 L459.5 194.34 L457.34 193.56 L454.98 192.68 L452.5 191.71 L449.96 190.68 L447.42 189.61 L444.96 188.53 L442.49 187.39 L439.95 186.18 L437.4 184.93 L434.92 183.67 L432.57 182.43 L430.44 181.27 L428.46 180.12 L426.5 178.9 L424.61 177.67 L422.9 176.52 L421.42 175.53 L420.31 174.79 Z" fill="#302fa2" opacity="1"/><path d="M418.65 177.3 L419.76 178.03 L421.23 179.02 L422.96 180.18 L424.89 181.43 L426.91 182.69 L428.97 183.89 L431.15 185.08 L433.54 186.33 L436.06 187.61 L438.64 188.88 L441.22 190.11 L443.73 191.26 L446.24 192.37 L448.81 193.45 L451.39 194.49 L453.91 195.48 L456.3 196.38 L458.5 197.17 L460.51 197.87 L462.35 198.47 L464.06 198.99 L465.62 199.47 L467.07 199.93 L468.46 200.31 L469.77 200.62 L470.92 200.86 L471.96 201.02 L472.95 201.1 L473.94 201.1 L475 200.99 L476.15 200.78 L477.35 200.45 L478.55 199.96 L479.71 199.34 L480.84 198.64 L481.89 197.88 L482.92 197.02 L483.94 196.04 L484.93 194.98 L485.86 193.86 L486.76 192.74 L487.58 191.67 L488.27 190.56 L488.87 189.32 L489.42 187.97 L489.94 186.6 L490.48 185.27 L491.07 184.07 L491.73 183.02 L492.42 182.08 L493.1 181.25 L493.73 180.54 L494.26 179.98 L494.67 179.57 L494.51 179.46 L494.06 179.84 L493.48 180.37 L492.81 181.05 L492.08 181.86 L491.33 182.8 L490.61 183.86 L489.95 185.08 L489.35 186.42 L488.78 187.77 L488.19 189.07 L487.57 190.24 L486.87 191.26 L486.04 192.24 L485.15 193.3 L484.25 194.39 L483.3 195.41 L482.32 196.35 L481.34 197.17 L480.33 197.9 L479.26 198.56 L478.15 199.15 L477 199.6 L475.85 199.85 L474.75 199.99 L473.76 200.02 L472.86 199.96 L471.98 199.82 L471.02 199.6 L469.94 199.32 L468.7 198.96 L467.37 198.54 L465.99 198.04 L464.47 197.55 L462.81 197.04 L460.99 196.45 L459 195.76 L456.82 194.97 L454.44 194.08 L451.94 193.1 L449.38 192.06 L446.83 190.99 L444.34 189.9 L441.86 188.75 L439.3 187.53 L436.73 186.27 L434.23 185 L431.86 183.75 L429.71 182.58 L427.69 181.4 L425.69 180.16 L423.79 178.92 L422.06 177.77 L420.59 176.78 L419.48 176.04 Z" fill="#3430a8" opacity="1"/><path d="M417.83 178.55 L418.92 179.27 L420.39 180.26 L422.14 181.43 L424.08 182.69 L426.14 183.97 L428.24 185.19 L430.45 186.4 L432.86 187.66 L435.39 188.95 L437.99 190.23 L440.58 191.47 L443.11 192.63 L445.64 193.74 L448.24 194.84 L450.84 195.89 L453.37 196.88 L455.78 197.78 L458 198.59 L460.03 199.29 L461.9 199.9 L463.64 200.43 L465.26 200.9 L466.77 201.32 L468.23 201.65 L469.6 201.92 L470.82 202.11 L471.95 202.22 L473.03 202.24 L474.11 202.17 L475.25 202 L476.46 201.7 L477.71 201.3 L478.95 200.77 L480.16 200.12 L481.34 199.39 L482.45 198.59 L483.52 197.69 L484.58 196.68 L485.61 195.57 L486.57 194.41 L487.47 193.24 L488.29 192.09 L488.97 190.88 L489.55 189.56 L490.05 188.17 L490.52 186.78 L491.01 185.47 L491.54 184.29 L492.13 183.25 L492.77 182.3 L493.39 181.45 L493.98 180.72 L494.47 180.13 L494.84 179.69 L494.67 179.57 L494.26 179.98 L493.73 180.54 L493.1 181.25 L492.42 182.08 L491.73 183.02 L491.07 184.07 L490.48 185.27 L489.94 186.6 L489.42 187.97 L488.87 189.32 L488.27 190.56 L487.58 191.67 L486.76 192.74 L485.86 193.86 L484.93 194.98 L483.94 196.04 L482.92 197.02 L481.89 197.88 L480.84 198.64 L479.71 199.34 L478.55 199.96 L477.35 200.45 L476.15 200.78 L475 200.99 L473.94 201.1 L472.95 201.1 L471.96 201.02 L470.92 200.86 L469.77 200.62 L468.46 200.31 L467.07 199.93 L465.62 199.47 L464.06 198.99 L462.35 198.47 L460.51 197.87 L458.5 197.17 L456.3 196.38 L453.91 195.48 L451.39 194.49 L448.81 193.45 L446.24 192.37 L443.73 191.26 L441.22 190.11 L438.64 188.88 L436.06 187.61 L433.54 186.33 L431.15 185.08 L428.97 183.89 L426.91 182.69 L424.89 181.43 L422.96 180.18 L421.23 179.02 L419.76 178.03 L418.65 177.3 Z" fill="#372eab" opacity="1"/><path d="M416.45 180.63 L417.53 181.35 L419 182.34 L420.76 183.52 L422.74 184.8 L424.85 186.12 L427.01 187.37 L429.27 188.6 L431.71 189.88 L434.27 191.19 L436.9 192.48 L439.52 193.73 L442.09 194.91 L444.66 196.04 L447.28 197.15 L449.91 198.21 L452.48 199.21 L454.91 200.13 L457.17 200.94 L459.22 201.66 L461.14 202.29 L462.94 202.84 L464.64 203.3 L466.27 203.69 L467.83 203.99 L469.29 204.21 L470.64 204.36 L471.93 204.42 L473.18 204.38 L474.44 204.24 L475.74 203.97 L477.08 203.58 L478.44 203.08 L479.78 202.47 L481.11 201.77 L482.39 200.97 L483.61 200.09 L484.79 199.1 L485.93 198.01 L487.03 196.83 L488.06 195.59 L489.01 194.31 L489.86 193 L490.58 191.61 L491.16 190.14 L491.64 188.67 L492.07 187.26 L492.48 186 L492.91 184.92 L493.41 183.96 L493.96 183.05 L494.51 182.22 L495.04 181.48 L495.49 180.85 L495.82 180.37 L494.84 179.69 L494.47 180.13 L493.98 180.72 L493.39 181.45 L492.77 182.3 L492.13 183.25 L491.54 184.29 L491.01 185.47 L490.52 186.78 L490.05 188.17 L489.55 189.56 L488.97 190.88 L488.29 192.09 L487.47 193.24 L486.57 194.41 L485.61 195.57 L484.58 196.68 L483.52 197.69 L482.45 198.59 L481.34 199.39 L480.16 200.12 L478.95 200.77 L477.71 201.3 L476.46 201.7 L475.25 202 L474.11 202.17 L473.03 202.24 L471.95 202.22 L470.82 202.11 L469.6 201.92 L468.23 201.65 L466.77 201.32 L465.26 200.9 L463.64 200.43 L461.9 199.9 L460.03 199.29 L458 198.59 L455.78 197.78 L453.37 196.88 L450.84 195.89 L448.24 194.84 L445.64 193.74 L443.11 192.63 L440.58 191.47 L437.99 190.23 L435.39 188.95 L432.86 187.66 L430.45 186.4 L428.24 185.19 L426.14 183.97 L424.08 182.69 L422.14 181.43 L420.39 180.26 L418.92 179.27 L417.83 178.55 Z" fill="#3a2cae" opacity="1"/><path d="M417.83 178.55 L418.92 179.27 L420.39 180.26 L422.14 181.43 L424.08 182.69 L426.14 183.97 L428.24 185.19 L430.45 186.4 L432.86 187.66 L435.39 188.95 L437.99 190.23 L440.58 191.47 L443.11 192.63 L445.64 193.74 L448.24 194.84 L450.84 195.89 L453.37 196.88 L455.78 197.78 L458 198.59 L460.03 199.29 L461.9 199.9 L463.64 200.43 L465.26 200.9 L466.77 201.32 L468.23 201.65 L469.6 201.92 L470.82 202.11 L471.95 202.22 L473.03 202.24 L474.11 202.17 L475.25 202 L476.46 201.7 L477.71 201.3 L478.95 200.77 L480.16 200.12 L481.34 199.39 L482.45 198.59 L483.52 197.69 L484.58 196.68 L485.61 195.57 L486.57 194.41 L487.47 193.24 L488.29 192.09 L488.97 190.88 L489.55 189.56 L490.05 188.17 L490.52 186.78 L491.01 185.47 L491.54 184.29 L492.13 183.25 L492.77 182.3 L493.39 181.45 L493.98 180.72 L494.47 180.13 L494.84 179.69" fill="none" stroke="#080a28" stroke-width="0.5" opacity="0.54"/><path d="M418.65 177.3 L419.76 178.03 L421.23 179.02 L422.96 180.18 L424.89 181.43 L426.91 182.69 L428.97 183.89 L431.15 185.08 L433.54 186.33 L436.06 187.61 L438.64 188.88 L441.22 190.11 L443.73 191.26 L446.24 192.37 L448.81 193.45 L451.39 194.49 L453.91 195.48 L456.3 196.38 L458.5 197.17 L460.51 197.87 L462.35 198.47 L464.06 198.99 L465.62 199.47 L467.07 199.93 L468.46 200.31 L469.77 200.62 L470.92 200.86 L471.96 201.02 L472.95 201.1 L473.94 201.1 L475 200.99 L476.15 200.78 L477.35 200.45 L478.55 199.96 L479.71 199.34 L480.84 198.64 L481.89 197.88 L482.92 197.02 L483.94 196.04 L484.93 194.98 L485.86 193.86 L486.76 192.74 L487.58 191.67 L488.27 190.56 L488.87 189.32 L489.42 187.97 L489.94 186.6 L490.48 185.27 L491.07 184.07 L491.73 183.02 L492.42 182.08 L493.1 181.25 L493.73 180.54 L494.26 179.98 L494.67 179.57" fill="none" stroke="#080a28" stroke-width="0.5" opacity="0.48"/><path d="M419.48 176.04 L420.59 176.78 L422.06 177.77 L423.79 178.92 L425.69 180.16 L427.69 181.4 L429.71 182.58 L431.86 183.75 L434.23 185 L436.73 186.27 L439.3 187.53 L441.86 188.75 L444.34 189.9 L446.83 190.99 L449.38 192.06 L451.94 193.1 L454.44 194.08 L456.82 194.97 L459 195.76 L460.99 196.45 L462.81 197.04 L464.47 197.55 L465.99 198.04 L467.37 198.54 L468.7 198.96 L469.94 199.32 L471.02 199.6 L471.98 199.82 L472.86 199.96 L473.76 200.02 L474.75 199.99 L475.85 199.85 L477 199.6 L478.15 199.15 L479.26 198.56 L480.33 197.9 L481.34 197.17 L482.32 196.35 L483.3 195.41 L484.25 194.39 L485.15 193.3 L486.04 192.24 L486.87 191.26 L487.57 190.24 L488.19 189.07 L488.78 187.77 L489.35 186.42 L489.95 185.08 L490.61 183.86 L491.33 182.8 L492.08 181.86 L492.81 181.05 L493.48 180.37 L494.06 179.84 L494.51 179.46" fill="none" stroke="#080a28" stroke-width="0.5" opacity="0.42"/><path d="M420.31 174.79 L421.42 175.53 L422.9 176.52 L424.61 177.67 L426.5 178.9 L428.46 180.12 L430.44 181.27 L432.57 182.43 L434.92 183.67 L437.4 184.93 L439.95 186.18 L442.49 187.39 L444.96 188.53 L447.42 189.61 L449.96 190.68 L452.5 191.71 L454.98 192.68 L457.34 193.56 L459.5 194.34 L461.47 195.02 L463.26 195.61 L464.89 196.11 L466.35 196.61 L467.67 197.15 L468.93 197.61 L470.11 198.02 L471.13 198.35 L471.99 198.62 L472.78 198.82 L473.59 198.95 L474.51 198.99 L475.54 198.92 L476.65 198.74 L477.76 198.34 L478.81 197.78 L479.83 197.15 L480.79 196.46 L481.72 195.68 L482.66 194.78 L483.58 193.79 L484.45 192.75 L485.32 191.74 L486.16 190.84 L486.87 189.93 L487.52 188.83 L488.14 187.57 L488.76 186.23 L489.42 184.89 L490.14 183.65 L490.93 182.57 L491.73 181.64 L492.51 180.85 L493.23 180.19 L493.85 179.69 L494.34 179.35" fill="none" stroke="#080a28" stroke-width="0.5" opacity="0.36"/><path d="M421.13 173.54 L422.26 174.28 L423.73 175.28 L425.44 176.42 L427.3 177.63 L429.24 178.83 L431.18 179.96 L433.28 181.11 L435.61 182.33 L438.07 183.59 L440.6 184.83 L443.13 186.03 L445.57 187.16 L448.02 188.23 L450.53 189.29 L453.05 190.31 L455.52 191.28 L457.86 192.15 L460 192.93 L461.95 193.6 L463.71 194.19 L465.31 194.67 L466.72 195.18 L467.97 195.76 L469.16 196.27 L470.28 196.72 L471.23 197.1 L472 197.42 L472.7 197.68 L473.42 197.87 L474.26 197.99 L475.23 197.99 L476.3 197.89 L477.36 197.54 L478.36 197 L479.33 196.4 L480.24 195.75 L481.12 195.01 L482.02 194.15 L482.9 193.2 L483.74 192.19 L484.61 191.24 L485.45 190.43 L486.16 189.61 L486.84 188.59 L487.51 187.37 L488.18 186.05 L488.89 184.7 L489.68 183.44 L490.53 182.35 L491.39 181.43 L492.22 180.64 L492.99 180.01 L493.65 179.54 L494.18 179.23" fill="none" stroke="#080a28" stroke-width="0.5" opacity="0.3"/><path d="M421.96 172.29 L423.09 173.04 L424.57 174.03 L426.26 175.17 L428.11 176.36 L430.01 177.55 L431.92 178.66 L433.98 179.79 L436.3 181 L438.75 182.25 L441.26 183.48 L443.76 184.68 L446.19 185.79 L448.61 186.85 L451.1 187.9 L453.61 188.92 L456.06 189.87 L458.38 190.75 L460.5 191.52 L462.43 192.18 L464.17 192.76 L465.73 193.23 L467.09 193.74 L468.26 194.36 L469.39 194.92 L470.45 195.42 L471.33 195.85 L472.02 196.22 L472.62 196.54 L473.24 196.8 L474.01 196.98 L474.93 197.06 L475.95 197.04 L476.96 196.73 L477.92 196.22 L478.83 195.65 L479.68 195.04 L480.52 194.34 L481.38 193.52 L482.23 192.6 L483.03 191.63 L483.89 190.74 L484.74 190.01 L485.46 189.29 L486.16 188.35 L486.87 187.17 L487.59 185.87 L488.36 184.51 L489.21 183.22 L490.13 182.13 L491.05 181.21 L491.93 180.44 L492.74 179.84 L493.44 179.4 L494.01 179.12" fill="none" stroke="#080a28" stroke-width="0.5" opacity="0.24"/><path d="M504.6 130.8 L502.6 140 L500 154 L497.2 167 L495.2 178.5 L496 180.5 L501 177 L509 174.2 L509 131 Z" fill="url(#gt)"/><path d="M504.8 131.5 L497 178.5 M504.8 131.5 L499.5 177.6 M504.8 131.5 L502 176.6 M504.8 131.5 L504.5 175.8 M504.8 131.5 L507 175 " fill="none" stroke="#0a1a18" stroke-width="0.45" opacity="0.3"/><path d="M494 137.2 L509 134.8 M494 140.2 L509 137.8 M494 143.2 L509 140.8 M494 146.2 L509 143.8 M494 149.2 L509 146.8 M494 152.2 L509 149.8 M494 155.2 L509 152.8 M494 158.2 L509 155.8 M494 161.2 L509 158.8 M494 164.2 L509 161.8 M494 167.2 L509 164.8 M494 170.2 L509 167.8 M494 173.2 L509 170.8 M494 176.2 L509 173.8 " fill="none" stroke="#0a1a18" stroke-width="0.4" opacity="0.22"/><path d="M498.5 156 L495.5 170 L492 182 L488 190 L483.5 197" fill="none" stroke="#04050a" stroke-width="5.5" filter="url(#b2)" opacity="0.85"/><ellipse cx="489.5" cy="185.5" rx="4.5" ry="6" fill="#020308" filter="url(#b2)" opacity="0.8"/></g>
<path d="M507.8 236.3 L507.8 120.6 L508.6 120.6 L509.8 126 C510.1 126.6 510.43 128.83 511.6 129.6 C512.77 130.37 513.88 130.63 516.8 130.6 C519.72 130.57 523.98 130.35 529.1 129.4 C534.22 128.45 540.68 126.85 547.5 124.9 C554.32 122.95 561.58 120.37 570 117.7 C578.42 115.03 588.4 111.93 598 108.9 C607.6 105.87 622.67 101.07 627.6 99.5 L627.6 195.3 Z" fill="#2d1b8a"/>
<path d="M507.8 236.3 L507.8 120.6 L508.6 120.6 L509.8 126 C510.1 126.6 510.43 128.83 511.6 129.6 C512.77 130.37 513.88 130.63 516.8 130.6 C519.72 130.57 523.98 130.35 529.1 129.4 C534.22 128.45 540.68 126.85 547.5 124.9 C554.32 122.95 561.58 120.37 570 117.7 C578.42 115.03 588.4 111.93 598 108.9 C607.6 105.87 622.67 101.07 627.6 99.5 L627.6 195.3 Z" fill="url(#st)"/>
<path d="M511.6 129.6 C512.47 129.77 513.88 130.63 516.8 130.6 C519.72 130.57 523.98 130.35 529.1 129.4 C534.22 128.45 540.68 126.85 547.5 124.9 C554.32 122.95 561.58 120.37 570 117.7 C578.42 115.03 588.4 111.93 598 108.9 C607.6 105.87 622.67 101.07 627.6 99.5" fill="none" stroke="#4a38a8" stroke-width="0.7" opacity="0.7"/>
<g fill="none" shape-rendering="geometricPrecision"><line x1="64.3" y1="465.3" x2="183.8" y2="424.2" stroke="#ececec" stroke-width="0.65"/><line x1="183.8" y1="424.2" x2="276.5" y2="477.6" stroke="#ececec" stroke-width="0.65"/><line x1="64.3" y1="426.57" x2="183.8" y2="385.47" stroke="#ececec" stroke-width="0.65"/><line x1="183.8" y1="385.47" x2="276.5" y2="438.87" stroke="#ececec" stroke-width="0.65"/><line x1="64.3" y1="387.83" x2="183.8" y2="346.73" stroke="#ececec" stroke-width="0.65"/><line x1="183.8" y1="346.73" x2="276.5" y2="400.13" stroke="#ececec" stroke-width="0.65"/><line x1="64.3" y1="349.1" x2="183.8" y2="308" stroke="#ececec" stroke-width="0.65"/><line x1="183.8" y1="308" x2="276.5" y2="361.4" stroke="#ececec" stroke-width="0.65"/><line x1="104.13" y1="451.6" x2="104.13" y2="335.4" stroke="#ececec" stroke-width="0.65"/><line x1="214.7" y1="442" x2="214.7" y2="325.8" stroke="#ececec" stroke-width="0.65"/><line x1="143.97" y1="437.9" x2="143.97" y2="321.7" stroke="#ececec" stroke-width="0.65"/><line x1="245.6" y1="459.8" x2="245.6" y2="343.6" stroke="#ececec" stroke-width="0.65"/><line x1="183.8" y1="424.2" x2="183.8" y2="308" stroke="#ececec" stroke-width="0.65"/><line x1="276.5" y1="477.6" x2="276.5" y2="361.4" stroke="#ececec" stroke-width="0.65"/><line x1="196.83" y1="505" x2="104.13" y2="451.6" stroke="#ececec" stroke-width="0.65"/><line x1="126.1" y1="500.9" x2="245.6" y2="459.8" stroke="#ececec" stroke-width="0.65"/><line x1="236.67" y1="491.3" x2="143.97" y2="437.9" stroke="#ececec" stroke-width="0.65"/><line x1="95.2" y1="483.1" x2="214.7" y2="442" stroke="#ececec" stroke-width="0.65"/><line x1="276.5" y1="477.6" x2="183.8" y2="424.2" stroke="#ececec" stroke-width="0.65"/><line x1="64.3" y1="465.3" x2="183.8" y2="424.2" stroke="#ececec" stroke-width="0.65"/><line x1="64.3" y1="465.3" x2="64.3" y2="349.1" stroke="#686868" stroke-width="0.62"/><line x1="64.3" y1="465.3" x2="157" y2="518.7" stroke="#686868" stroke-width="0.62"/><line x1="157" y1="518.7" x2="276.5" y2="477.6" stroke="#686868" stroke-width="0.62"/><line x1="157" y1="518.7" x2="154.16" y2="519.68" stroke="#686868" stroke-width="0.62"/><line x1="157" y1="518.7" x2="159.6" y2="520.2" stroke="#686868" stroke-width="0.62"/><line x1="126.1" y1="500.9" x2="123.26" y2="501.88" stroke="#686868" stroke-width="0.62"/><line x1="196.83" y1="505" x2="199.43" y2="506.5" stroke="#686868" stroke-width="0.62"/><line x1="95.2" y1="483.1" x2="92.36" y2="484.08" stroke="#686868" stroke-width="0.62"/><line x1="236.67" y1="491.3" x2="239.27" y2="492.8" stroke="#686868" stroke-width="0.62"/><line x1="64.3" y1="465.3" x2="61.46" y2="466.28" stroke="#686868" stroke-width="0.62"/><line x1="276.5" y1="477.6" x2="279.1" y2="479.1" stroke="#686868" stroke-width="0.62"/><line x1="64.3" y1="465.3" x2="61.7" y2="463.8" stroke="#686868" stroke-width="0.62"/><line x1="64.3" y1="426.57" x2="61.7" y2="425.07" stroke="#686868" stroke-width="0.62"/><line x1="64.3" y1="387.83" x2="61.7" y2="386.33" stroke="#686868" stroke-width="0.62"/><line x1="64.3" y1="349.1" x2="61.7" y2="347.6" stroke="#686868" stroke-width="0.62"/></g>
<g font-family="'Liberation Sans', sans-serif" fill="#303030" stroke="#303030" stroke-width="0.12"><text transform="translate(59.4 466.7) scale(0.76 1)" text-anchor="end" font-size="8.5" >-1</text><text transform="translate(59.4 427.97) scale(0.76 1)" text-anchor="end" font-size="8.5" >-0.5</text><text transform="translate(59.4 389.23) scale(0.76 1)" text-anchor="end" font-size="8.5" >0</text><text transform="translate(59.4 350.5) scale(0.76 1)" text-anchor="end" font-size="8.5" >0.5</text><text transform="translate(149.1 529.1) scale(0.76 1)" text-anchor="middle" font-size="8.5" >0</text><text transform="translate(163.5 530.6) scale(0.76 1)" text-anchor="middle" font-size="8.5" >0</text><text transform="translate(118.2 511.3) scale(0.76 1)" text-anchor="middle" font-size="8.5" >1</text><text transform="translate(203.33 516.9) scale(0.76 1)" text-anchor="middle" font-size="8.5" >1</text><text transform="translate(87.3 493.5) scale(0.76 1)" text-anchor="middle" font-size="8.5" >2</text><text transform="translate(243.17 503.2) scale(0.76 1)" text-anchor="middle" font-size="8.5" >2</text><text transform="translate(56.4 475.7) scale(0.76 1)" text-anchor="middle" font-size="8.5" >3</text><text transform="translate(283 489.5) scale(0.76 1)" text-anchor="middle" font-size="8.5" >3</text><text transform="translate(170.4 304.5) scale(0.76 1)" text-anchor="middle" font-size="9.2" fill="#262626" stroke="#262626" stroke-width="0.2">Skewness</text><text transform="translate(43.3 410.1) rotate(-90) scale(1 0.76)" text-anchor="middle" font-size="9.0">CSk</text><text transform="translate(116.4 529.7) scale(0.76 1)" text-anchor="middle" font-size="9.2" >θ</text><text transform="translate(203 532.5) scale(0.76 1)" text-anchor="middle" font-size="9.2" >β</text></g>
<g clip-path="url(#cc)"><rect x="60" y="345" width="220" height="180" fill="#3f3f14"/><rect x="60" y="345" width="220" height="180" fill="url(#gc0)"/><path d="M156.4 518.67 L157.13 518.41 L158.62 517.9 L160.65 517.19 L163.13 516.33 L166.02 515.33 L169.28 514.19 L172.89 512.94 L176.82 511.58 L181.05 510.11 L185.58 508.53 L190.38 506.86 L195.46 505.1 L200.79 503.25 L206.38 501.3 L212.22 499.28 L218.29 497.17 L224.59 494.98 L231.12 492.71 L237.87 490.36 L244.84 487.94 L252.02 485.45 L259.41 482.88 L267.01 480.24 L274.8 477.53 L273.85 470.91 L266.09 473.57 L258.53 476.15 L251.17 478.67 L244.02 481.11 L237.08 483.47 L230.36 485.75 L223.85 487.95 L217.58 490.06 L211.53 492.07 L205.72 493.99 L200.16 495.81 L194.84 497.53 L189.79 499.14 L185 500.63 L180.5 502.01 L176.28 503.27 L172.37 504.4 L168.78 505.4 L165.53 506.28 L162.66 507.03 L160.18 507.65 L158.16 508.14 L156.68 508.49 L155.95 508.65 Z" fill="url(#gcb0)" stroke="url(#gcb0)" stroke-width="0.4"/><path d="M155.95 508.65 L156.68 508.49 L158.16 508.14 L160.18 507.65 L162.66 507.03 L165.53 506.28 L168.78 505.4 L172.37 504.4 L176.28 503.27 L180.5 502.01 L185 500.63 L189.79 499.14 L194.84 497.53 L200.16 495.81 L205.72 493.99 L211.53 492.07 L217.58 490.06 L223.85 487.95 L230.36 485.75 L237.08 483.47 L244.02 481.11 L251.17 478.67 L258.53 476.15 L266.09 473.57 L273.85 470.91 L272.9 459.2 L265.17 461.83 L257.64 464.39 L250.32 466.87 L243.2 469.27 L236.29 471.58 L229.59 473.79 L223.12 475.91 L216.87 477.93 L210.84 479.83 L205.06 481.61 L199.52 483.26 L194.23 484.78 L189.19 486.16 L184.43 487.39 L179.94 488.46 L175.74 489.38 L171.85 490.14 L168.28 490.75 L165.04 491.22 L162.18 491.56 L159.71 491.78 L157.7 491.92 L156.23 491.99 L155.5 492.01 Z" fill="url(#gcb1)" stroke="url(#gcb1)" stroke-width="0.4"/><path d="M155.5 492.01 L156.23 491.99 L157.7 491.92 L159.71 491.78 L162.18 491.56 L165.04 491.22 L168.28 490.75 L171.85 490.14 L175.74 489.38 L179.94 488.46 L184.43 487.39 L189.19 486.16 L194.23 484.78 L199.52 483.26 L205.06 481.61 L210.84 479.83 L216.87 477.93 L223.12 475.91 L229.59 473.79 L236.29 471.58 L243.2 469.27 L250.32 466.87 L257.64 464.39 L265.17 461.83 L272.9 459.2 L271.95 445.88 L264.25 448.49 L256.76 451.01 L249.46 453.45 L242.37 455.8 L235.49 458.05 L228.83 460.19 L222.38 462.22 L216.15 464.12 L210.16 465.89 L204.4 467.51 L198.88 468.97 L193.61 470.26 L188.6 471.37 L183.86 472.29 L179.39 473.01 L175.21 473.54 L171.33 473.87 L167.77 474.02 L164.55 474.01 L161.7 473.87 L159.25 473.64 L157.24 473.36 L155.77 473.11 L155.05 472.96 Z" fill="url(#gcb2)" stroke="url(#gcb2)" stroke-width="0.4"/><path d="M155.05 472.96 L155.77 473.11 L157.24 473.36 L159.25 473.64 L161.7 473.87 L164.55 474.01 L167.77 474.02 L171.33 473.87 L175.21 473.54 L179.39 473.01 L183.86 472.29 L188.6 471.37 L193.61 470.26 L198.88 468.97 L204.4 467.51 L210.16 465.89 L216.15 464.12 L222.38 462.22 L228.83 460.19 L235.49 458.05 L242.37 455.8 L249.46 453.45 L256.76 451.01 L264.25 448.49 L271.95 445.88 L271 435.09 L263.34 437.67 L255.87 440.18 L248.61 442.6 L241.55 444.92 L234.7 447.14 L228.06 449.25 L221.64 451.23 L215.44 453.08 L209.47 454.79 L203.74 456.34 L198.24 457.72 L193 458.91 L188.01 459.91 L183.28 460.7 L178.83 461.28 L174.67 461.65 L170.81 461.81 L167.27 461.78 L164.06 461.58 L161.22 461.26 L158.78 460.84 L156.78 460.41 L155.32 460.03 L154.6 459.82 Z" fill="url(#gcb3)" stroke="url(#gcb3)" stroke-width="0.4"/><path d="M154.6 459.82 L155.32 460.03 L156.78 460.41 L158.78 460.84 L161.22 461.26 L164.06 461.58 L167.27 461.78 L170.81 461.81 L174.67 461.65 L178.83 461.28 L183.28 460.7 L188.01 459.91 L193 458.91 L198.24 457.72 L203.74 456.34 L209.47 454.79 L215.44 453.08 L221.64 451.23 L228.06 449.25 L234.7 447.14 L241.55 444.92 L248.61 442.6 L255.87 440.18 L263.34 437.67 L271 435.09 L270.05 426.31 L262.42 428.88 L254.99 431.38 L247.75 433.78 L240.73 436.09 L233.9 438.3 L227.29 440.39 L220.9 442.36 L214.73 444.2 L208.79 445.89 L203.08 447.42 L197.61 448.78 L192.38 449.96 L187.41 450.94 L182.71 451.71 L178.28 452.27 L174.13 452.62 L170.29 452.76 L166.76 452.71 L163.57 452.5 L160.74 452.15 L158.31 451.73 L156.32 451.28 L154.87 450.89 L154.15 450.67 Z" fill="url(#gcb4)" stroke="url(#gcb4)" stroke-width="0.4"/><path d="M154.15 450.67 L154.87 450.89 L156.32 451.28 L158.31 451.73 L160.74 452.15 L163.57 452.5 L166.76 452.71 L170.29 452.76 L174.13 452.62 L178.28 452.27 L182.71 451.71 L187.41 450.94 L192.38 449.96 L197.61 448.78 L203.08 447.42 L208.79 445.89 L214.73 444.2 L220.9 442.36 L227.29 440.39 L233.9 438.3 L240.73 436.09 L247.75 433.78 L254.99 431.38 L262.42 428.88 L270.05 426.31 L269.1 420.53 L261.5 423.09 L254.1 425.56 L246.9 427.95 L239.9 430.24 L233.11 432.43 L226.53 434.5 L220.16 436.45 L214.02 438.26 L208.1 439.93 L202.42 441.43 L196.97 442.75 L191.77 443.89 L186.82 444.82 L182.14 445.54 L177.72 446.04 L173.6 446.33 L169.77 446.41 L166.26 446.29 L163.08 446.01 L160.26 445.6 L157.84 445.1 L155.87 444.6 L154.41 444.16 L153.7 443.93 Z" fill="url(#gcb5)" stroke="url(#gcb5)" stroke-width="0.4"/><path d="M153.7 443.93 L154.41 444.16 L155.87 444.6 L157.84 445.1 L160.26 445.6 L163.08 446.01 L166.26 446.29 L169.77 446.41 L173.6 446.33 L177.72 446.04 L182.14 445.54 L186.82 444.82 L191.77 443.89 L196.97 442.75 L202.42 441.43 L208.1 439.93 L214.02 438.26 L220.16 436.45 L226.53 434.5 L233.11 432.43 L239.9 430.24 L246.9 427.95 L254.1 425.56 L261.5 423.09 L269.1 420.53 L268.15 415.94 L260.59 418.49 L253.22 420.95 L246.05 423.32 L239.08 425.6 L232.32 427.76 L225.76 429.81 L219.43 431.74 L213.31 433.52 L207.42 435.15 L201.76 436.62 L196.33 437.9 L191.15 438.99 L186.23 439.87 L181.56 440.53 L177.17 440.97 L173.06 441.19 L169.25 441.2 L165.75 441.01 L162.59 440.65 L159.79 440.16 L157.37 439.6 L155.41 439.03 L153.96 438.54 L153.25 438.28 Z" fill="url(#gcb6)" stroke="url(#gcb6)" stroke-width="0.4"/><path d="M153.25 438.28 L153.96 438.54 L155.41 439.03 L157.37 439.6 L159.79 440.16 L162.59 440.65 L165.75 441.01 L169.25 441.2 L173.06 441.19 L177.17 440.97 L181.56 440.53 L186.23 439.87 L191.15 438.99 L196.33 437.9 L201.76 436.62 L207.42 435.15 L213.31 433.52 L219.43 431.74 L225.76 429.81 L232.32 427.76 L239.08 425.6 L246.05 423.32 L253.22 420.95 L260.59 418.49 L268.15 415.94 L267.2 412.26 L259.67 414.79 L252.33 417.24 L245.19 419.6 L238.25 421.85 L231.52 424 L225 426.04 L218.69 427.94 L212.6 429.7 L206.73 431.31 L201.09 432.74 L195.69 434 L190.54 435.05 L185.63 435.89 L180.99 436.52 L176.62 436.92 L172.53 437.09 L168.73 437.04 L165.25 436.8 L162.1 436.39 L159.31 435.85 L156.91 435.24 L154.95 434.63 L153.51 434.11 L152.8 433.84 Z" fill="url(#gcb7)" stroke="url(#gcb7)" stroke-width="0.4"/><path d="M152.8 433.84 L153.51 434.11 L154.95 434.63 L156.91 435.24 L159.31 435.85 L162.1 436.39 L165.25 436.8 L168.73 437.04 L172.53 437.09 L176.62 436.92 L180.99 436.52 L185.63 435.89 L190.54 435.05 L195.69 434 L201.09 432.74 L206.73 431.31 L212.6 429.7 L218.69 427.94 L225 426.04 L231.52 424 L238.25 421.85 L245.19 419.6 L252.33 417.24 L259.67 414.79 L267.2 412.26 L266.25 409.38 L258.75 411.9 L251.45 414.34 L244.34 416.68 L237.43 418.92 L230.73 421.06 L224.23 423.08 L217.95 424.97 L211.89 426.71 L206.04 428.3 L200.43 429.72 L195.06 430.96 L189.92 431.99 L185.04 432.82 L180.42 433.42 L176.06 433.8 L171.99 433.96 L168.21 433.89 L164.74 433.63 L161.61 433.2 L158.83 432.65 L156.44 432.02 L154.49 431.4 L153.05 430.87 L152.35 430.59 Z" fill="url(#gcb8)" stroke="url(#gcb8)" stroke-width="0.4"/><path d="M152.35 430.59 L153.05 430.87 L154.49 431.4 L156.44 432.02 L158.83 432.65 L161.61 433.2 L164.74 433.63 L168.21 433.89 L171.99 433.96 L176.06 433.8 L180.42 433.42 L185.04 432.82 L189.92 431.99 L195.06 430.96 L200.43 429.72 L206.04 428.3 L211.89 426.71 L217.95 424.97 L224.23 423.08 L230.73 421.06 L237.43 418.92 L244.34 416.68 L251.45 414.34 L258.75 411.9 L266.25 409.38 L265.3 406.81 L257.84 409.31 L250.56 411.73 L243.49 414.07 L236.61 416.3 L229.93 418.42 L223.47 420.43 L217.21 422.31 L211.17 424.04 L205.36 425.62 L199.77 427.03 L194.42 428.25 L189.31 429.28 L184.45 430.1 L179.84 430.69 L175.51 431.06 L171.45 431.21 L167.69 431.14 L164.24 430.88 L161.12 430.45 L158.35 429.9 L155.97 429.27 L154.03 428.65 L152.6 428.13 L151.9 427.85 Z" fill="url(#gcb9)" stroke="url(#gcb9)" stroke-width="0.4"/><path d="M151.9 427.85 L152.6 428.13 L154.03 428.65 L155.97 429.27 L158.35 429.9 L161.12 430.45 L164.24 430.88 L167.69 431.14 L171.45 431.21 L175.51 431.06 L179.84 430.69 L184.45 430.1 L189.31 429.28 L194.42 428.25 L199.77 427.03 L205.36 425.62 L211.17 424.04 L217.21 422.31 L223.47 420.43 L229.93 418.42 L236.61 416.3 L243.49 414.07 L250.56 411.73 L257.84 409.31 L265.3 406.81 L264.35 404.73 L256.93 407.22 L249.7 409.63 L242.66 411.94 L235.82 414.16 L229.19 416.27 L222.76 418.26 L216.54 420.12 L210.53 421.84 L204.75 423.4 L199.2 424.8 L193.88 426.01 L188.79 427.02 L183.96 427.83 L179.38 428.41 L175.07 428.77 L171.04 428.92 L167.3 428.84 L163.87 428.58 L160.76 428.14 L158.01 427.59 L155.65 426.97 L153.72 426.35 L152.3 425.83 L151.6 425.55 Z" fill="url(#gcb10)" stroke="url(#gcb10)" stroke-width="0.4"/><path d="M151.6 425.55 L152.3 425.83 L153.72 426.35 L155.65 426.97 L158.01 427.59 L160.76 428.14 L163.87 428.58 L167.3 428.84 L171.04 428.92 L175.07 428.77 L179.38 428.41 L183.96 427.83 L188.79 427.02 L193.88 426.01 L199.2 424.8 L204.75 423.4 L210.53 421.84 L216.54 420.12 L222.76 418.26 L229.19 416.27 L235.82 414.16 L242.66 411.94 L249.7 409.63 L256.93 407.22 L264.35 404.73 L263.4 403.05 L256.04 405.52 L248.87 407.9 L241.89 410.19 L235.11 412.38 L228.53 414.47 L222.16 416.44 L215.99 418.28 L210.04 419.98 L204.3 421.52 L198.8 422.89 L193.52 424.08 L188.48 425.08 L183.69 425.87 L179.15 426.44 L174.88 426.79 L170.88 426.92 L167.17 426.84 L163.77 426.57 L160.69 426.13 L157.96 425.58 L155.61 424.96 L153.7 424.34 L152.29 423.83 L151.6 423.55 Z" fill="url(#gcb11)" stroke="url(#gcb11)" stroke-width="0.4"/><path d="M151.6 423.55 L152.29 423.83 L153.7 424.34 L155.61 424.96 L157.96 425.58 L160.69 426.13 L163.77 426.57 L167.17 426.84 L170.88 426.92 L174.88 426.79 L179.15 426.44 L183.69 425.87 L188.48 425.08 L193.52 424.08 L198.8 422.89 L204.3 421.52 L210.04 419.98 L215.99 418.28 L222.16 416.44 L228.53 414.47 L235.11 412.38 L241.89 410.19 L248.87 407.9 L256.04 405.52 L263.4 403.05 L262.45 401.67 L255.15 404.11 L248.04 406.47 L241.13 408.74 L234.4 410.92 L227.88 412.98 L221.56 414.93 L215.44 416.74 L209.54 418.42 L203.86 419.95 L198.4 421.3 L193.16 422.48 L188.17 423.46 L183.41 424.23 L178.91 424.79 L174.68 425.14 L170.71 425.26 L167.04 425.18 L163.66 424.91 L160.61 424.49 L157.91 423.94 L155.58 423.33 L153.68 422.73 L152.29 422.22 L151.6 421.95 Z" fill="url(#gcb12)" stroke="url(#gcb12)" stroke-width="0.4"/><path d="M151.6 421.95 L152.29 422.22 L153.68 422.73 L155.58 423.33 L157.91 423.94 L160.61 424.49 L163.66 424.91 L167.04 425.18 L170.71 425.26 L174.68 425.14 L178.91 424.79 L183.41 424.23 L188.17 423.46 L193.16 422.48 L198.4 421.3 L203.86 419.95 L209.54 418.42 L215.44 416.74 L221.56 414.93 L227.88 412.98 L234.4 410.92 L241.13 408.74 L248.04 406.47 L255.15 404.11 L262.45 401.67 L261.5 400.59 L254.27 403.01 L247.22 405.35 L240.36 407.6 L233.69 409.75 L227.23 411.79 L220.96 413.71 L214.9 415.51 L209.04 417.17 L203.41 418.67 L197.99 420.01 L192.81 421.17 L187.85 422.14 L183.14 422.9 L178.68 423.45 L174.48 423.79 L170.55 423.91 L166.9 423.83 L163.56 423.56 L160.53 423.14 L157.85 422.61 L155.55 422.01 L153.66 421.41 L152.28 420.92 L151.6 420.65 Z" fill="url(#gcb13)" stroke="url(#gcb13)" stroke-width="0.4"/><path d="M151.6 420.65 L152.28 420.92 L153.66 421.41 L155.55 422.01 L157.85 422.61 L160.53 423.14 L163.56 423.56 L166.9 423.83 L170.55 423.91 L174.48 423.79 L178.68 423.45 L183.14 422.9 L187.85 422.14 L192.81 421.17 L197.99 420.01 L203.41 418.67 L209.04 417.17 L214.9 415.51 L220.96 413.71 L227.23 411.79 L233.69 409.75 L240.36 407.6 L247.22 405.35 L254.27 403.01 L261.5 400.59 L260.55 399.71 L253.38 402.11 L246.39 404.42 L239.59 406.65 L232.98 408.77 L226.57 410.8 L220.36 412.7 L214.35 414.48 L208.55 416.11 L202.96 417.6 L197.59 418.92 L192.45 420.06 L187.54 421.01 L182.87 421.76 L178.45 422.31 L174.28 422.64 L170.39 422.76 L166.77 422.68 L163.46 422.41 L160.46 422 L157.8 421.47 L155.51 420.88 L153.64 420.3 L152.27 419.81 L151.6 419.55 Z" fill="url(#gcb14)" stroke="url(#gcb14)" stroke-width="0.4"/><path d="M151.6 419.55 L152.27 419.81 L153.64 420.3 L155.51 420.88 L157.8 421.47 L160.46 422 L163.46 422.41 L166.77 422.68 L170.39 422.76 L174.28 422.64 L178.45 422.31 L182.87 421.76 L187.54 421.01 L192.45 420.06 L197.59 418.92 L202.96 417.6 L208.55 416.11 L214.35 414.48 L220.36 412.7 L226.57 410.8 L232.98 408.77 L239.59 406.65 L246.39 404.42 L253.38 402.11 L260.55 399.71 L259.6 399.03 L252.49 401.4 L245.56 403.7 L238.82 405.9 L232.27 408 L225.92 410 L219.76 411.89 L213.8 413.64 L208.05 415.26 L202.51 416.73 L197.19 418.03 L192.09 419.16 L187.23 420.09 L182.6 420.83 L178.21 421.36 L174.08 421.69 L170.22 421.8 L166.64 421.72 L163.35 421.46 L160.38 421.05 L157.74 420.54 L155.48 419.96 L153.63 419.39 L152.27 418.91 L151.6 418.65 Z" fill="url(#gcb15)" stroke="url(#gcb15)" stroke-width="0.4"/><path d="M151.6 418.65 L152.27 418.91 L153.63 419.39 L155.48 419.96 L157.74 420.54 L160.38 421.05 L163.35 421.46 L166.64 421.72 L170.22 421.8 L174.08 421.69 L178.21 421.36 L182.6 420.83 L187.23 420.09 L192.09 419.16 L197.19 418.03 L202.51 416.73 L208.05 415.26 L213.8 413.64 L219.76 411.89 L225.92 410 L232.27 408 L238.82 405.9 L245.56 403.7 L252.49 401.4 L259.6 399.03 L258.65 398.45 L251.6 400.8 L244.74 403.07 L238.06 405.25 L231.56 407.33 L225.26 409.31 L219.16 411.17 L213.25 412.91 L207.56 414.51 L202.07 415.95 L196.79 417.24 L191.74 418.35 L186.91 419.27 L182.32 420 L177.98 420.52 L173.89 420.84 L170.06 420.95 L166.51 420.87 L163.25 420.61 L160.3 420.21 L157.69 419.7 L155.44 419.13 L153.61 418.57 L152.26 418.1 L151.6 417.85 Z" fill="url(#gcb16)" stroke="url(#gcb16)" stroke-width="0.4"/><path d="M151.6 417.85 L152.26 418.1 L153.61 418.57 L155.44 419.13 L157.69 419.7 L160.3 420.21 L163.25 420.61 L166.51 420.87 L170.06 420.95 L173.89 420.84 L177.98 420.52 L182.32 420 L186.91 419.27 L191.74 418.35 L196.79 417.24 L202.07 415.95 L207.56 414.51 L213.25 412.91 L219.16 411.17 L225.26 409.31 L231.56 407.33 L238.06 405.25 L244.74 403.07 L251.6 400.8 L258.65 398.45 L257.7 397.97 L250.72 400.3 L243.91 402.54 L237.29 404.7 L230.85 406.76 L224.61 408.72 L218.56 410.56 L212.71 412.27 L207.06 413.85 L201.62 415.28 L196.39 416.55 L191.38 417.64 L186.6 418.55 L182.05 419.26 L177.74 419.78 L173.69 420.09 L169.89 420.2 L166.38 420.12 L163.15 419.86 L160.22 419.47 L157.63 418.97 L155.41 418.41 L153.59 417.86 L152.26 417.4 L151.6 417.15 Z" fill="url(#gcb17)" stroke="url(#gcb17)" stroke-width="0.4"/><path d="M151.6 417.15 L152.26 417.4 L153.59 417.86 L155.41 418.41 L157.63 418.97 L160.22 419.47 L163.15 419.86 L166.38 420.12 L169.89 420.2 L173.69 420.09 L177.74 419.78 L182.05 419.26 L186.6 418.55 L191.38 417.64 L196.39 416.55 L201.62 415.28 L207.06 413.85 L212.71 412.27 L218.56 410.56 L224.61 408.72 L230.85 406.76 L237.29 404.7 L243.91 402.54 L250.72 400.3 L257.7 397.97 L256.75 397.59 L249.83 399.89 L243.08 402.12 L236.52 404.25 L230.15 406.29 L223.96 408.22 L217.96 410.04 L212.16 411.74 L206.56 413.29 L201.17 414.7 L195.99 415.95 L191.03 417.03 L186.29 417.93 L181.78 418.63 L177.51 419.13 L173.49 419.44 L169.73 419.54 L166.24 419.46 L163.04 419.21 L160.15 418.83 L157.58 418.33 L155.37 417.78 L153.57 417.24 L152.25 416.79 L151.6 416.55 Z" fill="url(#gcb18)" stroke="url(#gcb18)" stroke-width="0.4"/><path d="M151.6 416.55 L152.25 416.79 L153.57 417.24 L155.37 417.78 L157.58 418.33 L160.15 418.83 L163.04 419.21 L166.24 419.46 L169.73 419.54 L173.49 419.44 L177.51 419.13 L181.78 418.63 L186.29 417.93 L191.03 417.03 L195.99 415.95 L201.17 414.7 L206.56 413.29 L212.16 411.74 L217.96 410.04 L223.96 408.22 L230.15 406.29 L236.52 404.25 L243.08 402.12 L249.83 399.89 L256.75 397.59 L255.8 397.31 L248.94 399.59 L242.26 401.79 L235.76 403.9 L229.44 405.92 L223.3 407.83 L217.36 409.63 L211.61 411.3 L206.07 412.84 L200.72 414.23 L195.59 415.46 L190.67 416.52 L185.97 417.4 L181.51 418.09 L177.28 418.59 L173.29 418.89 L169.57 418.99 L166.11 418.91 L162.94 418.67 L160.07 418.28 L157.53 417.8 L155.34 417.26 L153.56 416.73 L152.24 416.29 L151.6 416.05 Z" fill="url(#gcb19)" stroke="url(#gcb19)" stroke-width="0.4"/><path d="M190.67 413.02 L195.59 411.96 L200.72 410.73 L206.07 409.34 L211.61 407.8 L217.36 406.13 L223.3 404.33 L229.44 402.42 L235.76 400.4 L242.26 398.29 L248.94 396.09 L255.8 393.81" fill="none" stroke="#56561c" stroke-width="9" filter="url(#b3)" opacity="0.8"/><ellipse cx="158" cy="419.5" rx="8" ry="4" fill="#161404" filter="url(#b2)" opacity="0.75"/><path d="M155.95 508.65 L156.68 508.49 L158.16 508.14 L160.18 507.65 L162.66 507.03 L165.53 506.28 L168.78 505.4 L172.37 504.4 L176.28 503.27 L180.5 502.01 L185 500.63 L189.79 499.14 L194.84 497.53 L200.16 495.81 L205.72 493.99 L211.53 492.07 L217.58 490.06 L223.85 487.95 L230.36 485.75 L237.08 483.47 L244.02 481.11 L251.17 478.67 L258.53 476.15 L266.09 473.57 L273.85 470.91" fill="none" stroke="#0c1020" stroke-width="0.55" opacity="0.6"/><path d="M155.5 492.01 L156.23 491.99 L157.7 491.92 L159.71 491.78 L162.18 491.56 L165.04 491.22 L168.28 490.75 L171.85 490.14 L175.74 489.38 L179.94 488.46 L184.43 487.39 L189.19 486.16 L194.23 484.78 L199.52 483.26 L205.06 481.61 L210.84 479.83 L216.87 477.93 L223.12 475.91 L229.59 473.79 L236.29 471.58 L243.2 469.27 L250.32 466.87 L257.64 464.39 L265.17 461.83 L272.9 459.2" fill="none" stroke="#0c1020" stroke-width="0.55" opacity="0.6"/><path d="M155.05 472.96 L155.77 473.11 L157.24 473.36 L159.25 473.64 L161.7 473.87 L164.55 474.01 L167.77 474.02 L171.33 473.87 L175.21 473.54 L179.39 473.01 L183.86 472.29 L188.6 471.37 L193.61 470.26 L198.88 468.97 L204.4 467.51 L210.16 465.89 L216.15 464.12 L222.38 462.22 L228.83 460.19 L235.49 458.05 L242.37 455.8 L249.46 453.45 L256.76 451.01 L264.25 448.49 L271.95 445.88" fill="none" stroke="#0c1020" stroke-width="0.55" opacity="0.6"/><path d="M154.6 459.82 L155.32 460.03 L156.78 460.41 L158.78 460.84 L161.22 461.26 L164.06 461.58 L167.27 461.78 L170.81 461.81 L174.67 461.65 L178.83 461.28 L183.28 460.7 L188.01 459.91 L193 458.91 L198.24 457.72 L203.74 456.34 L209.47 454.79 L215.44 453.08 L221.64 451.23 L228.06 449.25 L234.7 447.14 L241.55 444.92 L248.61 442.6 L255.87 440.18 L263.34 437.67 L271 435.09" fill="none" stroke="#0c1020" stroke-width="0.55" opacity="0.6"/><path d="M154.15 450.67 L154.87 450.89 L156.32 451.28 L158.31 451.73 L160.74 452.15 L163.57 452.5 L166.76 452.71 L170.29 452.76 L174.13 452.62 L178.28 452.27 L182.71 451.71 L187.41 450.94 L192.38 449.96 L197.61 448.78 L203.08 447.42 L208.79 445.89 L214.73 444.2 L220.9 442.36 L227.29 440.39 L233.9 438.3 L240.73 436.09 L247.75 433.78 L254.99 431.38 L262.42 428.88 L270.05 426.31" fill="none" stroke="#0c1020" stroke-width="0.55" opacity="0.6"/><path d="M153.7 443.93 L154.41 444.16 L155.87 444.6 L157.84 445.1 L160.26 445.6 L163.08 446.01 L166.26 446.29 L169.77 446.41 L173.6 446.33 L177.72 446.04 L182.14 445.54 L186.82 444.82 L191.77 443.89 L196.97 442.75 L202.42 441.43 L208.1 439.93 L214.02 438.26 L220.16 436.45 L226.53 434.5 L233.11 432.43 L239.9 430.24 L246.9 427.95 L254.1 425.56 L261.5 423.09 L269.1 420.53" fill="none" stroke="#0c1020" stroke-width="0.55" opacity="0.6"/><path d="M153.25 438.28 L153.96 438.54 L155.41 439.03 L157.37 439.6 L159.79 440.16 L162.59 440.65 L165.75 441.01 L169.25 441.2 L173.06 441.19 L177.17 440.97 L181.56 440.53 L186.23 439.87 L191.15 438.99 L196.33 437.9 L201.76 436.62 L207.42 435.15 L213.31 433.52 L219.43 431.74 L225.76 429.81 L232.32 427.76 L239.08 425.6 L246.05 423.32 L253.22 420.95 L260.59 418.49 L268.15 415.94" fill="none" stroke="#0c1020" stroke-width="0.55" opacity="0.6"/><path d="M152.8 433.84 L153.51 434.11 L154.95 434.63 L156.91 435.24 L159.31 435.85 L162.1 436.39 L165.25 436.8 L168.73 437.04 L172.53 437.09 L176.62 436.92 L180.99 436.52 L185.63 435.89 L190.54 435.05 L195.69 434 L201.09 432.74 L206.73 431.31 L212.6 429.7 L218.69 427.94 L225 426.04 L231.52 424 L238.25 421.85 L245.19 419.6 L252.33 417.24 L259.67 414.79 L267.2 412.26" fill="none" stroke="#0c1020" stroke-width="0.55" opacity="0.54"/><path d="M152.35 430.59 L153.05 430.87 L154.49 431.4 L156.44 432.02 L158.83 432.65 L161.61 433.2 L164.74 433.63 L168.21 433.89 L171.99 433.96 L176.06 433.8 L180.42 433.42 L185.04 432.82 L189.92 431.99 L195.06 430.96 L200.43 429.72 L206.04 428.3 L211.89 426.71 L217.95 424.97 L224.23 423.08 L230.73 421.06 L237.43 418.92 L244.34 416.68 L251.45 414.34 L258.75 411.9 L266.25 409.38" fill="none" stroke="#0c1020" stroke-width="0.55" opacity="0.48"/><path d="M151.9 427.85 L152.6 428.13 L154.03 428.65 L155.97 429.27 L158.35 429.9 L161.12 430.45 L164.24 430.88 L167.69 431.14 L171.45 431.21 L175.51 431.06 L179.84 430.69 L184.45 430.1 L189.31 429.28 L194.42 428.25 L199.77 427.03 L205.36 425.62 L211.17 424.04 L217.21 422.31 L223.47 420.43 L229.93 418.42 L236.61 416.3 L243.49 414.07 L250.56 411.73 L257.84 409.31 L265.3 406.81" fill="none" stroke="#0c1020" stroke-width="0.55" opacity="0.42"/><path d="M151.6 425.55 L152.3 425.83 L153.72 426.35 L155.65 426.97 L158.01 427.59 L160.76 428.14 L163.87 428.58 L167.3 428.84 L171.04 428.92 L175.07 428.77 L179.38 428.41 L183.96 427.83 L188.79 427.02 L193.88 426.01 L199.2 424.8 L204.75 423.4 L210.53 421.84 L216.54 420.12 L222.76 418.26 L229.19 416.27 L235.82 414.16 L242.66 411.94 L249.7 409.63 L256.93 407.22 L264.35 404.73" fill="none" stroke="#0c1020" stroke-width="0.55" opacity="0.36"/><path d="M151.6 423.55 L152.29 423.83 L153.7 424.34 L155.61 424.96 L157.96 425.58 L160.69 426.13 L163.77 426.57 L167.17 426.84 L170.88 426.92 L174.88 426.79 L179.15 426.44 L183.69 425.87 L188.48 425.08 L193.52 424.08 L198.8 422.89 L204.3 421.52 L210.04 419.98 L215.99 418.28 L222.16 416.44 L228.53 414.47 L235.11 412.38 L241.89 410.19 L248.87 407.9 L256.04 405.52 L263.4 403.05" fill="none" stroke="#0c1020" stroke-width="0.55" opacity="0.3"/><path d="M151.6 421.95 L152.29 422.22 L153.68 422.73 L155.58 423.33 L157.91 423.94 L160.61 424.49 L163.66 424.91 L167.04 425.18 L170.71 425.26 L174.68 425.14 L178.91 424.79 L183.41 424.23 L188.17 423.46 L193.16 422.48 L198.4 421.3 L203.86 419.95 L209.54 418.42 L215.44 416.74 L221.56 414.93 L227.88 412.98 L234.4 410.92 L241.13 408.74 L248.04 406.47 L255.15 404.11 L262.45 401.67" fill="none" stroke="#0c1020" stroke-width="0.55" opacity="0.24"/><path d="M151.6 420.65 L152.28 420.92 L153.66 421.41 L155.55 422.01 L157.85 422.61 L160.53 423.14 L163.56 423.56 L166.9 423.83 L170.55 423.91 L174.48 423.79 L178.68 423.45 L183.14 422.9 L187.85 422.14 L192.81 421.17 L197.99 420.01 L203.41 418.67 L209.04 417.17 L214.9 415.51 L220.96 413.71 L227.23 411.79 L233.69 409.75 L240.36 407.6 L247.22 405.35 L254.27 403.01 L261.5 400.59" fill="none" stroke="#0c1020" stroke-width="0.55" opacity="0.18"/><path d="M151.6 419.55 L152.27 419.81 L153.64 420.3 L155.51 420.88 L157.8 421.47 L160.46 422 L163.46 422.41 L166.77 422.68 L170.39 422.76 L174.28 422.64 L178.45 422.31 L182.87 421.76 L187.54 421.01 L192.45 420.06 L197.59 418.92 L202.96 417.6 L208.55 416.11 L214.35 414.48 L220.36 412.7 L226.57 410.8 L232.98 408.77 L239.59 406.65 L246.39 404.42 L253.38 402.11 L260.55 399.71" fill="none" stroke="#0c1020" stroke-width="0.55" opacity="0.15"/><path d="M151.6 418.65 L152.27 418.91 L153.63 419.39 L155.48 419.96 L157.74 420.54 L160.38 421.05 L163.35 421.46 L166.64 421.72 L170.22 421.8 L174.08 421.69 L178.21 421.36 L182.6 420.83 L187.23 420.09 L192.09 419.16 L197.19 418.03 L202.51 416.73 L208.05 415.26 L213.8 413.64 L219.76 411.89 L225.92 410 L232.27 408 L238.82 405.9 L245.56 403.7 L252.49 401.4 L259.6 399.03" fill="none" stroke="#0c1020" stroke-width="0.55" opacity="0.15"/><path d="M151.6 417.85 L152.26 418.1 L153.61 418.57 L155.44 419.13 L157.69 419.7 L160.3 420.21 L163.25 420.61 L166.51 420.87 L170.06 420.95 L173.89 420.84 L177.98 420.52 L182.32 420 L186.91 419.27 L191.74 418.35 L196.79 417.24 L202.07 415.95 L207.56 414.51 L213.25 412.91 L219.16 411.17 L225.26 409.31 L231.56 407.33 L238.06 405.25 L244.74 403.07 L251.6 400.8 L258.65 398.45" fill="none" stroke="#0c1020" stroke-width="0.55" opacity="0.15"/><path d="M151.6 417.15 L152.26 417.4 L153.59 417.86 L155.41 418.41 L157.63 418.97 L160.22 419.47 L163.15 419.86 L166.38 420.12 L169.89 420.2 L173.69 420.09 L177.74 419.78 L182.05 419.26 L186.6 418.55 L191.38 417.64 L196.39 416.55 L201.62 415.28 L207.06 413.85 L212.71 412.27 L218.56 410.56 L224.61 408.72 L230.85 406.76 L237.29 404.7 L243.91 402.54 L250.72 400.3 L257.7 397.97" fill="none" stroke="#0c1020" stroke-width="0.55" opacity="0.15"/><path d="M151.6 416.55 L152.25 416.79 L153.57 417.24 L155.37 417.78 L157.58 418.33 L160.15 418.83 L163.04 419.21 L166.24 419.46 L169.73 419.54 L173.49 419.44 L177.51 419.13 L181.78 418.63 L186.29 417.93 L191.03 417.03 L195.99 415.95 L201.17 414.7 L206.56 413.29 L212.16 411.74 L217.96 410.04 L223.96 408.22 L230.15 406.29 L236.52 404.25 L243.08 402.12 L249.83 399.89 L256.75 397.59" fill="none" stroke="#0c1020" stroke-width="0.55" opacity="0.15"/><path d="M151.6 416.05 L152.24 416.29 L153.56 416.73 L155.34 417.26 L157.53 417.8 L160.07 418.28 L162.94 418.67 L166.11 418.91 L169.57 418.99 L173.29 418.89 L177.28 418.59 L181.51 418.09 L185.97 417.4 L190.67 416.52 L195.59 415.46 L200.72 414.23 L206.07 412.84 L211.61 411.3 L217.36 409.63 L223.3 407.83 L229.44 405.92 L235.76 403.9 L242.26 401.79 L248.94 399.59 L255.8 397.31" fill="none" stroke="#0c1020" stroke-width="0.55" opacity="0.15"/><path d="M150 417 L153.5 422 L154.2 432" fill="none" stroke="#0b0a04" stroke-width="5" filter="url(#b2)" opacity="0.9"/><ellipse cx="163" cy="427.5" rx="9" ry="4.5" fill="#9a7026" filter="url(#b3)" opacity="0.8"/></g>
<path d="M130.8 410.2 C136 409.2 143 410.6 147.2 413.6 C149.2 415.2 150 417 149.8 418.2 C146 415.8 138 412.6 130.8 410.2 Z" fill="url(#gl)"/>
<path d="M65.8 379.1 C67.83 379.02 73.73 378.93 78 378.6 C82.27 378.27 85.75 378.03 91.4 377.1 C97.05 376.17 105.08 374.72 111.9 373 C118.72 371.28 125.48 368.85 132.3 366.8 C139.12 364.75 144.22 363.32 152.8 360.7 C161.38 358.08 178.63 352.7 183.8 351.1 L211.4 366.8 C214.82 368.85 225.77 375.35 231.9 379.1 C238.03 382.85 243.77 386.35 248.2 389.3 C252.63 392.25 255.8 394.35 258.5 396.8 C261.2 399.25 262.88 401.43 264.4 404 C265.92 406.57 266.6 408.78 267.6 412.2 C268.6 415.62 269.53 418.87 270.4 424.5 C271.27 430.13 272.05 437.17 272.8 446 C273.55 454.83 274.55 472.25 274.9 477.5" fill="none" stroke="#15150a" stroke-width="0.5" opacity="0.6"/>
<g fill="none" shape-rendering="geometricPrecision"><line x1="415.6" y1="465.3" x2="535.1" y2="424.2" stroke="#ececec" stroke-width="0.65"/><line x1="535.1" y1="424.2" x2="627.8" y2="477.6" stroke="#ececec" stroke-width="0.65"/><line x1="415.6" y1="445.93" x2="535.1" y2="404.83" stroke="#ececec" stroke-width="0.65"/><line x1="535.1" y1="404.83" x2="627.8" y2="458.23" stroke="#ececec" stroke-width="0.65"/><line x1="415.6" y1="426.57" x2="535.1" y2="385.47" stroke="#ececec" stroke-width="0.65"/><line x1="535.1" y1="385.47" x2="627.8" y2="438.87" stroke="#ececec" stroke-width="0.65"/><line x1="415.6" y1="407.2" x2="535.1" y2="366.1" stroke="#ececec" stroke-width="0.65"/><line x1="535.1" y1="366.1" x2="627.8" y2="419.5" stroke="#ececec" stroke-width="0.65"/><line x1="415.6" y1="387.83" x2="535.1" y2="346.73" stroke="#ececec" stroke-width="0.65"/><line x1="535.1" y1="346.73" x2="627.8" y2="400.13" stroke="#ececec" stroke-width="0.65"/><line x1="415.6" y1="368.47" x2="535.1" y2="327.37" stroke="#ececec" stroke-width="0.65"/><line x1="535.1" y1="327.37" x2="627.8" y2="380.77" stroke="#ececec" stroke-width="0.65"/><line x1="415.6" y1="349.1" x2="535.1" y2="308" stroke="#ececec" stroke-width="0.65"/><line x1="535.1" y1="308" x2="627.8" y2="361.4" stroke="#ececec" stroke-width="0.65"/><line x1="455.43" y1="451.6" x2="455.43" y2="335.4" stroke="#ececec" stroke-width="0.65"/><line x1="566" y1="442" x2="566" y2="325.8" stroke="#ececec" stroke-width="0.65"/><line x1="495.27" y1="437.9" x2="495.27" y2="321.7" stroke="#ececec" stroke-width="0.65"/><line x1="596.9" y1="459.8" x2="596.9" y2="343.6" stroke="#ececec" stroke-width="0.65"/><line x1="535.1" y1="424.2" x2="535.1" y2="308" stroke="#ececec" stroke-width="0.65"/><line x1="627.8" y1="477.6" x2="627.8" y2="361.4" stroke="#ececec" stroke-width="0.65"/><line x1="548.13" y1="505" x2="455.43" y2="451.6" stroke="#ececec" stroke-width="0.65"/><line x1="477.4" y1="500.9" x2="596.9" y2="459.8" stroke="#ececec" stroke-width="0.65"/><line x1="587.97" y1="491.3" x2="495.27" y2="437.9" stroke="#ececec" stroke-width="0.65"/><line x1="446.5" y1="483.1" x2="566" y2="442" stroke="#ececec" stroke-width="0.65"/><line x1="627.8" y1="477.6" x2="535.1" y2="424.2" stroke="#ececec" stroke-width="0.65"/><line x1="415.6" y1="465.3" x2="535.1" y2="424.2" stroke="#ececec" stroke-width="0.65"/><line x1="415.6" y1="465.3" x2="415.6" y2="349.1" stroke="#686868" stroke-width="0.62"/><line x1="415.6" y1="465.3" x2="508.3" y2="518.7" stroke="#686868" stroke-width="0.62"/><line x1="508.3" y1="518.7" x2="627.8" y2="477.6" stroke="#686868" stroke-width="0.62"/><line x1="508.3" y1="518.7" x2="505.46" y2="519.68" stroke="#686868" stroke-width="0.62"/><line x1="508.3" y1="518.7" x2="510.9" y2="520.2" stroke="#686868" stroke-width="0.62"/><line x1="477.4" y1="500.9" x2="474.56" y2="501.88" stroke="#686868" stroke-width="0.62"/><line x1="548.13" y1="505" x2="550.73" y2="506.5" stroke="#686868" stroke-width="0.62"/><line x1="446.5" y1="483.1" x2="443.66" y2="484.08" stroke="#686868" stroke-width="0.62"/><line x1="587.97" y1="491.3" x2="590.57" y2="492.8" stroke="#686868" stroke-width="0.62"/><line x1="415.6" y1="465.3" x2="412.76" y2="466.28" stroke="#686868" stroke-width="0.62"/><line x1="627.8" y1="477.6" x2="630.4" y2="479.1" stroke="#686868" stroke-width="0.62"/><line x1="415.6" y1="465.3" x2="413" y2="463.8" stroke="#686868" stroke-width="0.62"/><line x1="415.6" y1="445.93" x2="413" y2="444.43" stroke="#686868" stroke-width="0.62"/><line x1="415.6" y1="426.57" x2="413" y2="425.07" stroke="#686868" stroke-width="0.62"/><line x1="415.6" y1="407.2" x2="413" y2="405.7" stroke="#686868" stroke-width="0.62"/><line x1="415.6" y1="387.83" x2="413" y2="386.33" stroke="#686868" stroke-width="0.62"/><line x1="415.6" y1="368.47" x2="413" y2="366.97" stroke="#686868" stroke-width="0.62"/><line x1="415.6" y1="349.1" x2="413" y2="347.6" stroke="#686868" stroke-width="0.62"/></g>
<g font-family="'Liberation Sans', sans-serif" fill="#303030" stroke="#303030" stroke-width="0.12"><text transform="translate(410.7 466.7) scale(0.76 1)" text-anchor="end" font-size="8.5" >0</text><text transform="translate(410.7 447.33) scale(0.76 1)" text-anchor="end" font-size="8.5" >2</text><text transform="translate(410.7 427.97) scale(0.76 1)" text-anchor="end" font-size="8.5" >4</text><text transform="translate(410.7 408.6) scale(0.76 1)" text-anchor="end" font-size="8.5" >6</text><text transform="translate(410.7 389.23) scale(0.76 1)" text-anchor="end" font-size="8.5" >8</text><text transform="translate(410.7 369.87) scale(0.76 1)" text-anchor="end" font-size="8.5" >10</text><text transform="translate(410.7 350.5) scale(0.76 1)" text-anchor="end" font-size="8.5" >12</text><text transform="translate(500.4 529.1) scale(0.76 1)" text-anchor="middle" font-size="8.5" >0</text><text transform="translate(514.8 530.6) scale(0.76 1)" text-anchor="middle" font-size="8.5" >0</text><text transform="translate(469.5 511.3) scale(0.76 1)" text-anchor="middle" font-size="8.5" >1</text><text transform="translate(554.63 516.9) scale(0.76 1)" text-anchor="middle" font-size="8.5" >1</text><text transform="translate(438.6 493.5) scale(0.76 1)" text-anchor="middle" font-size="8.5" >2</text><text transform="translate(594.47 503.2) scale(0.76 1)" text-anchor="middle" font-size="8.5" >2</text><text transform="translate(407.7 475.7) scale(0.76 1)" text-anchor="middle" font-size="8.5" >3</text><text transform="translate(634.3 489.5) scale(0.76 1)" text-anchor="middle" font-size="8.5" >3</text><text transform="translate(521.7 304.5) scale(0.76 1)" text-anchor="middle" font-size="9.2" fill="#262626" stroke="#262626" stroke-width="0.2">Kurtosis</text><text transform="translate(398.4 408.1) rotate(-90) scale(1 0.76)" text-anchor="middle" font-size="9.0">CKu</text><text transform="translate(467.7 529.7) scale(0.76 1)" text-anchor="middle" font-size="9.2" >θ</text><text transform="translate(554.3 532.5) scale(0.76 1)" text-anchor="middle" font-size="9.2" >β</text></g>
<path d="M417.4 452.9 L454.2 440 L509.4 420.8 L512 470 L509 500 L507.8 505 L505.2 509.2 L503.4 505.6 L500 501 L493.5 496.5 L483.7 491 L459.1 476.8 L434.6 462.7 Z" fill="#15143f"/>
<path d="M624 462.4 C619.67 463.97 607 468.5 598 471.8 C589 475.1 579.43 478.63 570 482.2 C560.57 485.77 549.23 490.02 541.4 493.2 C533.57 496.38 528.12 499.03 523 501.3 C517.88 503.57 513.67 505.45 510.7 506.8 C507.73 508.15 506.12 508.97 505.2 509.4 L507 504.6 C507.92 504.1 509.83 502.88 512.5 501.6 C515.17 500.32 518.18 498.97 523 496.9 C527.82 494.83 533.57 492.32 541.4 489.2 C549.23 486.08 560.57 481.8 570 478.2 C579.43 474.6 588.8 471.07 598 467.6 C607.2 464.13 620.67 459.1 625.2 457.4 Z" fill="#281e8c" stroke="#281e8c" stroke-width="0.5"/>
<path d="M625.2 457.4 C620.67 459.1 607.2 464.13 598 467.6 C588.8 471.07 579.43 474.6 570 478.2 C560.57 481.8 549.23 486.08 541.4 489.2 C533.57 492.32 527.82 494.83 523 496.9 C518.18 498.97 515.17 500.32 512.5 501.6 C509.83 502.88 507.92 504.1 507 504.6 L507.6 499.6 C508.32 498.73 509.33 496.33 511.9 494.4 C514.47 492.47 518.08 490.5 523 488 C527.92 485.5 533.57 482.8 541.4 479.4 C549.23 476 560.57 471.37 570 467.6 C579.43 463.83 588.6 460.33 598 456.8 C607.4 453.27 621.67 448.13 626.4 446.4 Z" fill="#2f53cf" stroke="#2f53cf" stroke-width="0.4"/>
<path d="M507.8 499.6 L508.4 470 L509.2 455 C509.27 452.5 509.4 444 509.6 440 C509.8 436 509.78 434.33 510.4 431 C511.02 427.67 511.97 423.18 513.3 420 C514.63 416.82 516.18 414.45 518.4 411.9 C520.62 409.35 522.85 407.27 526.6 404.7 C530.35 402.13 535.1 399.4 540.9 396.5 C546.7 393.6 554.57 390.27 561.4 387.3 C568.23 384.33 575.08 381.6 581.9 378.7 C588.72 375.8 594.73 372.92 602.3 369.9 C609.87 366.88 623.13 362.15 627.3 360.6 L626.4 446.4 C621.67 448.13 607.4 453.27 598 456.8 C588.6 460.33 579.43 463.83 570 467.6 C560.57 471.37 549.23 476 541.4 479.4 C533.57 482.8 527.92 485.5 523 488 C518.08 490.5 514.47 492.47 511.9 494.4 C509.33 496.33 508.32 498.73 507.6 499.6 Z" fill="url(#gd)"/>
<path d="M507.8 499.6 L508.4 470 L509.2 455 C509.27 452.5 509.4 444 509.6 440 C509.8 436 509.78 434.33 510.4 431 C511.02 427.67 511.97 423.18 513.3 420 C514.63 416.82 516.18 414.45 518.4 411.9 C520.62 409.35 522.85 407.27 526.6 404.7 C530.35 402.13 535.1 399.4 540.9 396.5 C546.7 393.6 554.57 390.27 561.4 387.3 C568.23 384.33 575.08 381.6 581.9 378.7 C588.72 375.8 594.73 372.92 602.3 369.9 C609.87 366.88 623.13 362.15 627.3 360.6 L626.4 446.4 C621.67 448.13 607.4 453.27 598 456.8 C588.6 460.33 579.43 463.83 570 467.6 C560.57 471.37 549.23 476 541.4 479.4 C533.57 482.8 527.92 485.5 523 488 C518.08 490.5 514.47 492.47 511.9 494.4 C509.33 496.33 508.32 498.73 507.6 499.6 Z" fill="url(#sd)"/>
<path d="M510.4 431 C510.88 429.17 511.97 423.18 513.3 420 C514.63 416.82 516.18 414.45 518.4 411.9 C520.62 409.35 522.85 407.27 526.6 404.7 C530.35 402.13 535.1 399.4 540.9 396.5 C546.7 393.6 554.57 390.27 561.4 387.3 C568.23 384.33 575.08 381.6 581.9 378.7 C588.72 375.8 594.73 372.92 602.3 369.9 C609.87 366.88 623.13 362.15 627.3 360.6" fill="none" stroke="#3a3a08" stroke-width="0.6" opacity="0.75"/>
<path d="M508.2 499 L508.8 470 L509.5 448 L510.3 433" fill="none" stroke="#6aa84a" stroke-width="0.9" opacity="0.9"/>
<path d="M626.4 446.4 C621.67 448.13 607.4 453.27 598 456.8 C588.6 460.33 579.43 463.83 570 467.6 C560.57 471.37 549.23 476 541.4 479.4 C533.57 482.8 527.92 485.5 523 488 C518.08 490.5 514.47 492.47 511.9 494.4 C509.33 496.33 508.32 498.73 507.6 499.6" fill="none" stroke="#1a2a30" stroke-width="0.5" opacity="0.6"/>
<g font-family="'Liberation Serif', serif" font-size="18.4" fill="#0a0a0a" stroke="#0a0a0a" stroke-width="0.2"><text transform="translate(165.2 285.4) scale(1.08 1)" text-anchor="middle">(a)</text><text transform="translate(517 285.4) scale(1.08 1)" text-anchor="middle">(b)</text><text transform="translate(165.4 566.9) scale(1.08 1)" text-anchor="middle">(c)</text><text transform="translate(517 566.9) scale(1.08 1)" text-anchor="middle">(d)</text></g>
</svg>
</body>
</html>
